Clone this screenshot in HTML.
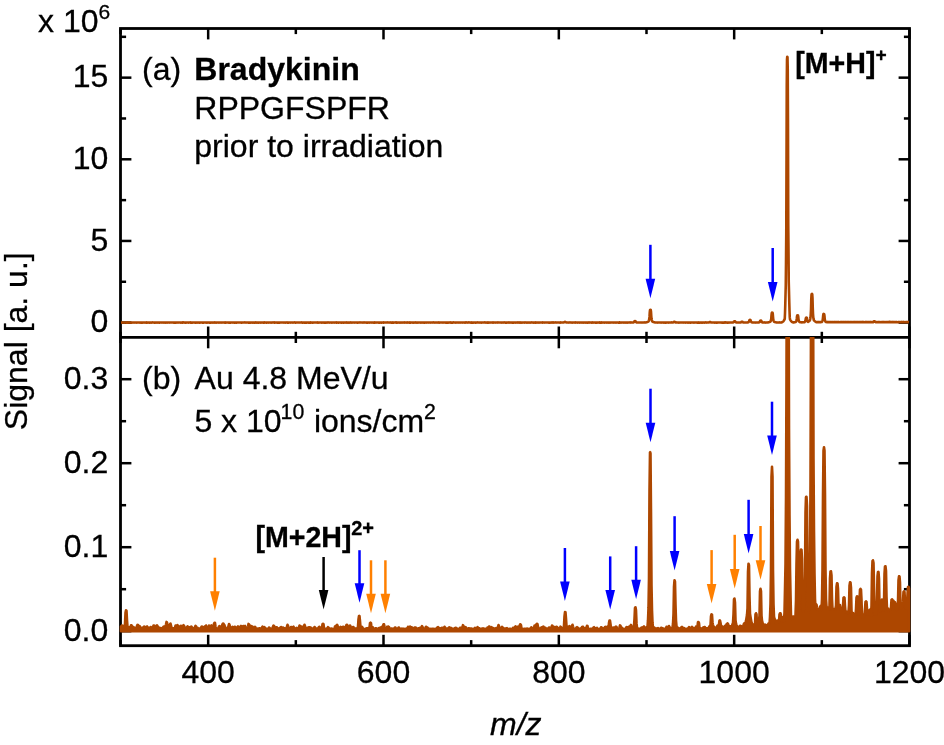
<!DOCTYPE html>
<html><head><meta charset="utf-8"><style>
html,body{margin:0;padding:0;background:#fff;}
body{width:944px;height:745px;overflow:hidden;font-family:"Liberation Sans",sans-serif;}
svg{display:block;will-change:transform;}
</style></head><body>
<svg width="944" height="745" viewBox="0 0 944 745">
<rect width="944" height="745" fill="#fff"/>
<defs><clipPath id="ca"><rect x="118.50" y="28.50" width="793.00" height="307.40"/></clipPath>
<clipPath id="cb"><rect x="118.50" y="336.90" width="793.00" height="308.30"/></clipPath></defs>
<g stroke="#000" stroke-width="2.80" fill="none">
<rect x="120.50" y="28.50" width="789.00" height="617.20"/>
<line x1="120.50" y1="337.40" x2="909.50" y2="337.40"/>
</g>
<g stroke="#000" stroke-width="2.5">
<line x1="120.50" y1="28.50" x2="120.50" y2="34.10"/>
<line x1="120.50" y1="337.40" x2="120.50" y2="331.80"/>
<line x1="120.50" y1="337.40" x2="120.50" y2="343.00"/>
<line x1="120.50" y1="645.70" x2="120.50" y2="640.10"/>
<line x1="208.17" y1="28.50" x2="208.17" y2="39.40"/>
<line x1="208.17" y1="337.40" x2="208.17" y2="326.50"/>
<line x1="208.17" y1="337.40" x2="208.17" y2="348.30"/>
<line x1="208.17" y1="645.70" x2="208.17" y2="634.80"/>
<line x1="295.83" y1="28.50" x2="295.83" y2="34.10"/>
<line x1="295.83" y1="337.40" x2="295.83" y2="331.80"/>
<line x1="295.83" y1="337.40" x2="295.83" y2="343.00"/>
<line x1="295.83" y1="645.70" x2="295.83" y2="640.10"/>
<line x1="383.50" y1="28.50" x2="383.50" y2="39.40"/>
<line x1="383.50" y1="337.40" x2="383.50" y2="326.50"/>
<line x1="383.50" y1="337.40" x2="383.50" y2="348.30"/>
<line x1="383.50" y1="645.70" x2="383.50" y2="634.80"/>
<line x1="471.17" y1="28.50" x2="471.17" y2="34.10"/>
<line x1="471.17" y1="337.40" x2="471.17" y2="331.80"/>
<line x1="471.17" y1="337.40" x2="471.17" y2="343.00"/>
<line x1="471.17" y1="645.70" x2="471.17" y2="640.10"/>
<line x1="558.83" y1="28.50" x2="558.83" y2="39.40"/>
<line x1="558.83" y1="337.40" x2="558.83" y2="326.50"/>
<line x1="558.83" y1="337.40" x2="558.83" y2="348.30"/>
<line x1="558.83" y1="645.70" x2="558.83" y2="634.80"/>
<line x1="646.50" y1="28.50" x2="646.50" y2="34.10"/>
<line x1="646.50" y1="337.40" x2="646.50" y2="331.80"/>
<line x1="646.50" y1="337.40" x2="646.50" y2="343.00"/>
<line x1="646.50" y1="645.70" x2="646.50" y2="640.10"/>
<line x1="734.17" y1="28.50" x2="734.17" y2="39.40"/>
<line x1="734.17" y1="337.40" x2="734.17" y2="326.50"/>
<line x1="734.17" y1="337.40" x2="734.17" y2="348.30"/>
<line x1="734.17" y1="645.70" x2="734.17" y2="634.80"/>
<line x1="821.83" y1="28.50" x2="821.83" y2="34.10"/>
<line x1="821.83" y1="337.40" x2="821.83" y2="331.80"/>
<line x1="821.83" y1="337.40" x2="821.83" y2="343.00"/>
<line x1="821.83" y1="645.70" x2="821.83" y2="640.10"/>
<line x1="909.50" y1="28.50" x2="909.50" y2="39.40"/>
<line x1="909.50" y1="337.40" x2="909.50" y2="326.50"/>
<line x1="909.50" y1="337.40" x2="909.50" y2="348.30"/>
<line x1="909.50" y1="645.70" x2="909.50" y2="634.80"/>
<line x1="120.50" y1="322.60" x2="131.40" y2="322.60"/>
<line x1="909.50" y1="322.60" x2="898.60" y2="322.60"/>
<line x1="120.50" y1="281.78" x2="126.10" y2="281.78"/>
<line x1="909.50" y1="281.78" x2="903.90" y2="281.78"/>
<line x1="120.50" y1="240.95" x2="131.40" y2="240.95"/>
<line x1="909.50" y1="240.95" x2="898.60" y2="240.95"/>
<line x1="120.50" y1="200.13" x2="126.10" y2="200.13"/>
<line x1="909.50" y1="200.13" x2="903.90" y2="200.13"/>
<line x1="120.50" y1="159.30" x2="131.40" y2="159.30"/>
<line x1="909.50" y1="159.30" x2="898.60" y2="159.30"/>
<line x1="120.50" y1="118.48" x2="126.10" y2="118.48"/>
<line x1="909.50" y1="118.48" x2="903.90" y2="118.48"/>
<line x1="120.50" y1="77.65" x2="131.40" y2="77.65"/>
<line x1="909.50" y1="77.65" x2="898.60" y2="77.65"/>
<line x1="120.50" y1="36.83" x2="126.10" y2="36.83"/>
<line x1="909.50" y1="36.83" x2="903.90" y2="36.83"/>
<line x1="120.50" y1="631.20" x2="131.40" y2="631.20"/>
<line x1="909.50" y1="631.20" x2="898.60" y2="631.20"/>
<line x1="120.50" y1="589.20" x2="126.10" y2="589.20"/>
<line x1="909.50" y1="589.20" x2="903.90" y2="589.20"/>
<line x1="120.50" y1="547.20" x2="131.40" y2="547.20"/>
<line x1="909.50" y1="547.20" x2="898.60" y2="547.20"/>
<line x1="120.50" y1="505.20" x2="126.10" y2="505.20"/>
<line x1="909.50" y1="505.20" x2="903.90" y2="505.20"/>
<line x1="120.50" y1="463.20" x2="131.40" y2="463.20"/>
<line x1="909.50" y1="463.20" x2="898.60" y2="463.20"/>
<line x1="120.50" y1="421.20" x2="126.10" y2="421.20"/>
<line x1="909.50" y1="421.20" x2="903.90" y2="421.20"/>
<line x1="120.50" y1="379.20" x2="131.40" y2="379.20"/>
<line x1="909.50" y1="379.20" x2="898.60" y2="379.20"/>
</g>
<g fill="none" stroke="#AD4700" stroke-width="2.6" stroke-linejoin="round">
<path clip-path="url(#ca)" d="M121.00,322.60L121.25,322.58L121.50,322.58L121.75,322.53L122.00,322.56L122.25,322.52L122.50,322.60L122.75,322.49L123.00,322.56L123.25,322.55L123.50,322.56L123.75,322.57L124.00,322.59L124.25,322.53L124.50,322.60L124.75,322.54L125.00,322.49L125.25,322.56L125.50,322.45L125.75,322.50L126.00,322.45L126.25,322.58L126.50,322.50L126.75,322.58L127.00,322.59L127.25,322.59L127.50,322.40L127.75,322.56L128.00,322.60L128.25,322.59L128.50,322.48L128.75,322.56L129.00,322.52L129.25,322.54L129.50,322.52L129.75,322.54L130.00,322.60L130.25,322.53L130.50,322.55L130.75,322.59L131.00,322.59L131.25,322.59L131.50,322.50L131.75,322.59L132.00,322.49L132.25,322.48L132.50,322.53L132.75,322.59L133.00,322.55L133.25,322.44L133.50,322.54L133.75,322.50L134.00,322.59L134.25,322.55L134.50,322.58L134.75,322.55L135.00,322.59L135.25,322.55L135.50,322.48L135.75,322.55L136.00,322.58L136.25,322.56L136.50,322.59L136.75,322.51L137.00,322.55L137.25,322.58L137.50,322.53L137.75,322.51L138.00,322.49L138.25,322.54L138.50,322.55L138.75,322.44L139.00,322.56L139.25,322.59L139.50,322.50L139.75,322.54L140.00,322.57L140.25,322.57L140.50,322.58L140.75,322.48L141.00,322.57L141.25,322.58L141.50,322.57L141.75,322.59L142.00,322.58L142.25,322.51L142.50,322.60L142.75,322.56L143.00,322.51L143.25,322.55L143.50,322.60L143.75,322.55L144.00,322.57L144.25,322.52L144.50,322.60L144.75,322.55L145.00,322.50L145.25,322.57L145.50,322.46L145.75,322.44L146.00,322.58L146.25,322.53L146.50,322.59L146.75,322.42L147.00,322.53L147.25,322.55L147.50,322.58L147.75,322.56L148.00,322.59L148.25,322.58L148.50,322.54L148.75,322.56L149.00,322.52L149.25,322.59L149.50,322.60L149.75,322.52L150.00,322.58L150.25,322.53L150.50,322.52L150.75,322.58L151.00,322.59L151.25,322.55L151.50,322.59L151.75,322.44L152.00,322.51L152.25,322.57L152.50,322.43L152.75,322.53L153.00,322.46L153.25,322.54L153.50,322.53L153.75,322.54L154.00,322.59L154.25,322.48L154.50,322.50L154.75,322.48L155.00,322.59L155.25,322.58L155.50,322.59L155.75,322.52L156.00,322.51L156.25,322.56L156.50,322.60L156.75,322.54L157.00,322.55L157.25,322.50L157.50,322.50L157.75,322.59L158.00,322.52L158.25,322.60L158.50,322.54L158.75,322.57L159.00,322.56L159.25,322.60L159.50,322.57L159.75,322.58L160.00,322.49L160.25,322.54L160.50,322.47L160.75,322.55L161.00,322.52L161.25,322.57L161.50,322.49L161.75,322.48L162.00,322.58L162.25,322.55L162.50,322.46L162.75,322.54L163.00,322.60L163.25,322.59L163.50,322.54L163.75,322.56L164.00,322.56L164.25,322.59L164.50,322.51L164.75,322.50L165.00,322.49L165.25,322.56L165.50,322.58L165.75,322.60L166.00,322.56L166.25,322.56L166.50,322.55L166.75,322.58L167.00,322.59L167.25,322.60L167.50,322.51L167.75,322.55L168.00,322.57L168.25,322.55L168.50,322.49L168.75,322.52L169.00,322.52L169.25,322.59L169.50,322.56L169.75,322.54L170.00,322.53L170.25,322.53L170.50,322.56L170.75,322.48L171.00,322.50L171.25,322.53L171.50,322.56L171.75,322.53L172.00,322.45L172.25,322.48L172.50,322.51L172.75,322.46L173.00,322.53L173.25,322.52L173.50,322.60L173.75,322.53L174.00,322.47L174.25,322.43L174.50,322.58L174.75,322.60L175.00,322.58L175.25,322.60L175.50,322.53L175.75,322.48L176.00,322.59L176.25,322.52L176.50,322.47L176.75,322.56L177.00,322.60L177.25,322.57L177.50,322.52L177.75,322.55L178.00,322.52L178.25,322.53L178.50,322.58L178.75,322.54L179.00,322.57L179.25,322.57L179.50,322.44L179.75,322.49L180.00,322.53L180.25,322.59L180.50,322.60L180.75,322.48L181.00,322.56L181.25,322.54L181.50,322.59L181.75,322.59L182.00,322.58L182.25,322.51L182.50,322.60L182.75,322.42L183.00,322.54L183.25,322.44L183.50,322.34L183.75,322.56L184.00,322.49L184.25,322.60L184.50,322.51L184.75,322.52L185.00,322.51L185.25,322.59L185.50,322.60L185.75,322.60L186.00,322.60L186.25,322.54L186.50,322.56L186.75,322.58L187.00,322.52L187.25,322.56L187.50,322.55L187.75,322.51L188.00,322.50L188.25,322.59L188.50,322.60L188.75,322.49L189.00,322.46L189.25,322.48L189.50,322.56L189.75,322.54L190.00,322.57L190.25,322.39L190.50,322.58L190.75,322.60L191.00,322.59L191.25,322.51L191.50,322.58L191.75,322.59L192.00,322.50L192.25,322.57L192.50,322.60L192.75,322.48L193.00,322.56L193.25,322.57L193.50,322.45L193.75,322.47L194.00,322.52L194.25,322.53L194.50,322.55L194.75,322.59L195.00,322.58L195.25,322.58L195.50,322.58L195.75,322.60L196.00,322.48L196.25,322.56L196.50,322.60L196.75,322.55L197.00,322.55L197.25,322.47L197.50,322.56L197.75,322.59L198.00,322.57L198.25,322.51L198.50,322.59L198.75,322.53L199.00,322.57L199.25,322.58L199.50,322.58L199.75,322.59L200.00,322.47L200.25,322.58L200.50,322.53L200.75,322.53L201.00,322.54L201.25,322.55L201.50,322.48L201.75,322.57L202.00,322.55L202.25,322.58L202.50,322.60L202.75,322.52L203.00,322.56L203.25,322.44L203.50,322.58L203.75,322.58L204.00,322.52L204.25,322.57L204.50,322.50L204.75,322.51L205.00,322.50L205.25,322.53L205.50,322.51L205.75,322.48L206.00,322.58L206.25,322.56L206.50,322.44L206.75,322.58L207.00,322.55L207.25,322.49L207.50,322.60L207.75,322.48L208.00,322.52L208.25,322.52L208.50,322.53L208.75,322.56L209.00,322.58L209.25,322.58L209.50,322.58L209.75,322.58L210.00,322.58L210.25,322.60L210.50,322.58L210.75,322.59L211.00,322.56L211.25,322.45L211.50,322.55L211.75,322.60L212.00,322.47L212.25,322.57L212.50,322.44L212.75,322.49L213.00,322.53L213.25,322.54L213.50,322.59L213.75,322.46L214.00,322.57L214.25,322.55L214.50,322.55L214.75,322.42L215.00,322.58L215.25,322.54L215.50,322.51L215.75,322.60L216.00,322.59L216.25,322.51L216.50,322.59L216.75,322.51L217.00,322.51L217.25,322.51L217.50,322.51L217.75,322.56L218.00,322.56L218.25,322.59L218.50,322.57L218.75,322.57L219.00,322.50L219.25,322.48L219.50,322.54L219.75,322.58L220.00,322.58L220.25,322.52L220.50,322.46L220.75,322.54L221.00,322.59L221.25,322.57L221.50,322.57L221.75,322.52L222.00,322.58L222.25,322.50L222.50,322.53L222.75,322.54L223.00,322.56L223.25,322.45L223.50,322.49L223.75,322.55L224.00,322.49L224.25,322.57L224.50,322.58L224.75,322.51L225.00,322.40L225.25,322.59L225.50,322.47L225.75,322.55L226.00,322.59L226.25,322.47L226.50,322.57L226.75,322.52L227.00,322.50L227.25,322.51L227.50,322.57L227.75,322.52L228.00,322.56L228.25,322.56L228.50,322.60L228.75,322.56L229.00,322.53L229.25,322.58L229.50,322.52L229.75,322.50L230.00,322.60L230.25,322.53L230.50,322.48L230.75,322.60L231.00,322.55L231.25,322.52L231.50,322.53L231.75,322.56L232.00,322.48L232.25,322.54L232.50,322.57L232.75,322.58L233.00,322.54L233.25,322.55L233.50,322.59L233.75,322.55L234.00,322.60L234.25,322.51L234.50,322.59L234.75,322.60L235.00,322.52L235.25,322.53L235.50,322.60L235.75,322.46L236.00,322.55L236.25,322.51L236.50,322.46L236.75,322.60L237.00,322.51L237.25,322.48L237.50,322.51L237.75,322.54L238.00,322.51L238.25,322.57L238.50,322.54L238.75,322.54L239.00,322.55L239.25,322.54L239.50,322.57L239.75,322.52L240.00,322.50L240.25,322.45L240.50,322.45L240.75,322.57L241.00,322.58L241.25,322.60L241.50,322.59L241.75,322.60L242.00,322.45L242.25,322.52L242.50,322.48L242.75,322.52L243.00,322.49L243.25,322.54L243.50,322.53L243.75,322.52L244.00,322.49L244.25,322.57L244.50,322.49L244.75,322.37L245.00,322.56L245.25,322.51L245.50,322.52L245.75,322.51L246.00,322.58L246.25,322.48L246.50,322.52L246.75,322.49L247.00,322.53L247.25,322.57L247.50,322.53L247.75,322.45L248.00,322.57L248.25,322.60L248.50,322.59L248.75,322.59L249.00,322.51L249.25,322.59L249.50,322.60L249.75,322.50L250.00,322.45L250.25,322.59L250.50,322.54L250.75,322.59L251.00,322.55L251.25,322.54L251.50,322.60L251.75,322.52L252.00,322.55L252.25,322.59L252.50,322.58L252.75,322.59L253.00,322.54L253.25,322.52L253.50,322.58L253.75,322.56L254.00,322.58L254.25,322.60L254.50,322.49L254.75,322.59L255.00,322.49L255.25,322.55L255.50,322.58L255.75,322.43L256.00,322.59L256.25,322.59L256.50,322.59L256.75,322.57L257.00,322.57L257.25,322.52L257.50,322.58L257.75,322.56L258.00,322.59L258.25,322.50L258.50,322.58L258.75,322.59L259.00,322.59L259.25,322.56L259.50,322.56L259.75,322.47L260.00,322.56L260.25,322.58L260.50,322.58L260.75,322.57L261.00,322.55L261.25,322.58L261.50,322.55L261.75,322.57L262.00,322.58L262.25,322.48L262.50,322.56L262.75,322.51L263.00,322.52L263.25,322.58L263.50,322.48L263.75,322.52L264.00,322.59L264.25,322.40L264.50,322.57L264.75,322.48L265.00,322.50L265.25,322.55L265.50,322.50L265.75,322.57L266.00,322.58L266.25,322.46L266.50,322.47L266.75,322.59L267.00,322.58L267.25,322.50L267.50,322.54L267.75,322.57L268.00,322.57L268.25,322.59L268.50,322.52L268.75,322.54L269.00,322.60L269.25,322.54L269.50,322.55L269.75,322.51L270.00,322.57L270.25,322.58L270.50,322.57L270.75,322.52L271.00,322.47L271.25,322.55L271.50,322.60L271.75,322.58L272.00,322.46L272.25,322.57L272.50,322.55L272.75,322.53L273.00,322.42L273.25,322.57L273.50,322.53L273.75,322.57L274.00,322.55L274.25,322.60L274.50,322.54L274.75,322.38L275.00,322.59L275.25,322.56L275.50,322.55L275.75,322.46L276.00,322.51L276.25,322.57L276.50,322.58L276.75,322.54L277.00,322.56L277.25,322.60L277.50,322.53L277.75,322.44L278.00,322.59L278.25,322.60L278.50,322.58L278.75,322.49L279.00,322.60L279.25,322.48L279.50,322.52L279.75,322.59L280.00,322.58L280.25,322.54L280.50,322.52L280.75,322.48L281.00,322.53L281.25,322.57L281.50,322.55L281.75,322.48L282.00,322.52L282.25,322.56L282.50,322.56L282.75,322.56L283.00,322.52L283.25,322.58L283.50,322.51L283.75,322.53L284.00,322.53L284.25,322.58L284.50,322.54L284.75,322.55L285.00,322.58L285.25,322.53L285.50,322.59L285.75,322.57L286.00,322.53L286.25,322.55L286.50,322.56L286.75,322.50L287.00,322.42L287.25,322.44L287.50,322.59L287.75,322.58L288.00,322.48L288.25,322.59L288.50,322.52L288.75,322.59L289.00,322.56L289.25,322.53L289.50,322.47L289.75,322.49L290.00,322.55L290.25,322.54L290.50,322.59L290.75,322.58L291.00,322.55L291.25,322.57L291.50,322.56L291.75,322.53L292.00,322.57L292.25,322.52L292.50,322.51L292.75,322.60L293.00,322.54L293.25,322.57L293.50,322.58L293.75,322.54L294.00,322.47L294.25,322.52L294.50,322.57L294.75,322.40L295.00,322.52L295.25,322.59L295.50,322.54L295.75,322.44L296.00,322.58L296.25,322.57L296.50,322.50L296.75,322.56L297.00,322.55L297.25,322.56L297.50,322.45L297.75,322.46L298.00,322.55L298.25,322.55L298.50,322.44L298.75,322.55L299.00,322.58L299.25,322.57L299.50,322.55L299.75,322.57L300.00,322.46L300.25,322.57L300.50,322.54L300.75,322.57L301.00,322.55L301.25,322.57L301.50,322.42L301.75,322.50L302.00,322.58L302.25,322.51L302.50,322.44L302.75,322.60L303.00,322.46L303.25,322.53L303.50,322.50L303.75,322.56L304.00,322.59L304.25,322.44L304.50,322.57L304.75,322.48L305.00,322.58L305.25,322.59L305.50,322.57L305.75,322.59L306.00,322.56L306.25,322.55L306.50,322.47L306.75,322.60L307.00,322.45L307.25,322.44L307.50,322.49L307.75,322.54L308.00,322.55L308.25,322.48L308.50,322.60L308.75,322.59L309.00,322.58L309.25,322.59L309.50,322.57L309.75,322.59L310.00,322.51L310.25,322.57L310.50,322.42L310.75,322.59L311.00,322.58L311.25,322.56L311.50,322.54L311.75,322.51L312.00,322.58L312.25,322.53L312.50,322.58L312.75,322.59L313.00,322.48L313.25,322.55L313.50,322.59L313.75,322.56L314.00,322.48L314.25,322.44L314.50,322.55L314.75,322.56L315.00,322.55L315.25,322.55L315.50,322.49L315.75,322.47L316.00,322.54L316.25,322.58L316.50,322.55L316.75,322.56L317.00,322.53L317.25,322.43L317.50,322.57L317.75,322.48L318.00,322.55L318.25,322.57L318.50,322.58L318.75,322.47L319.00,322.58L319.25,322.48L319.50,322.54L319.75,322.53L320.00,322.50L320.25,322.57L320.50,322.55L320.75,322.44L321.00,322.54L321.25,322.59L321.50,322.57L321.75,322.59L322.00,322.55L322.25,322.60L322.50,322.50L322.75,322.57L323.00,322.57L323.25,322.57L323.50,322.48L323.75,322.59L324.00,322.58L324.25,322.58L324.50,322.49L324.75,322.47L325.00,322.59L325.25,322.50L325.50,322.46L325.75,322.58L326.00,322.59L326.25,322.54L326.50,322.59L326.75,322.55L327.00,322.56L327.25,322.54L327.50,322.60L327.75,322.52L328.00,322.39L328.25,322.52L328.50,322.56L328.75,322.53L329.00,322.54L329.25,322.51L329.50,322.56L329.75,322.60L330.00,322.52L330.25,322.52L330.50,322.56L330.75,322.43L331.00,322.48L331.25,322.57L331.50,322.59L331.75,322.59L332.00,322.46L332.25,322.56L332.50,322.54L332.75,322.56L333.00,322.59L333.25,322.53L333.50,322.55L333.75,322.55L334.00,322.51L334.25,322.54L334.50,322.48L334.75,322.58L335.00,322.51L335.25,322.56L335.50,322.52L335.75,322.55L336.00,322.59L336.25,322.40L336.50,322.54L336.75,322.56L337.00,322.59L337.25,322.57L337.50,322.50L337.75,322.56L338.00,322.46L338.25,322.58L338.50,322.60L338.75,322.59L339.00,322.49L339.25,322.57L339.50,322.53L339.75,322.51L340.00,322.53L340.25,322.43L340.50,322.54L340.75,322.58L341.00,322.59L341.25,322.46L341.50,322.53L341.75,322.59L342.00,322.56L342.25,322.54L342.50,322.57L342.75,322.58L343.00,322.58L343.25,322.59L343.50,322.59L343.75,322.51L344.00,322.60L344.25,322.53L344.50,322.52L344.75,322.58L345.00,322.55L345.25,322.51L345.50,322.59L345.75,322.52L346.00,322.51L346.25,322.41L346.50,322.44L346.75,322.58L347.00,322.54L347.25,322.59L347.50,322.59L347.75,322.48L348.00,322.49L348.25,322.52L348.50,322.60L348.75,322.49L349.00,322.59L349.25,322.55L349.50,322.58L349.75,322.54L350.00,322.60L350.25,322.56L350.50,322.56L350.75,322.43L351.00,322.53L351.25,322.54L351.50,322.59L351.75,322.59L352.00,322.52L352.25,322.56L352.50,322.54L352.75,322.58L353.00,322.50L353.25,322.49L353.50,322.50L353.75,322.55L354.00,322.51L354.25,322.50L354.50,322.59L354.75,322.50L355.00,322.57L355.25,322.53L355.50,322.50L355.75,322.57L356.00,322.57L356.25,322.54L356.50,322.55L356.75,322.57L357.00,322.60L357.25,322.56L357.50,322.56L357.75,322.59L358.00,322.60L358.25,322.55L358.50,322.57L358.75,322.51L359.00,322.58L359.25,322.53L359.50,322.50L359.75,322.55L360.00,322.42L360.25,322.53L360.50,322.54L360.75,322.57L361.00,322.45L361.25,322.46L361.50,322.44L361.75,322.52L362.00,322.55L362.25,322.54L362.50,322.54L362.75,322.59L363.00,322.56L363.25,322.55L363.50,322.59L363.75,322.52L364.00,322.42L364.25,322.55L364.50,322.52L364.75,322.52L365.00,322.58L365.25,322.53L365.50,322.57L365.75,322.53L366.00,322.53L366.25,322.47L366.50,322.60L366.75,322.56L367.00,322.52L367.25,322.59L367.50,322.52L367.75,322.60L368.00,322.59L368.25,322.55L368.50,322.52L368.75,322.57L369.00,322.58L369.25,322.59L369.50,322.59L369.75,322.53L370.00,322.52L370.25,322.57L370.50,322.56L370.75,322.53L371.00,322.57L371.25,322.57L371.50,322.57L371.75,322.44L372.00,322.57L372.25,322.46L372.50,322.52L372.75,322.55L373.00,322.57L373.25,322.57L373.50,322.60L373.75,322.60L374.00,322.58L374.25,322.46L374.50,322.58L374.75,322.42L375.00,322.57L375.25,322.54L375.50,322.54L375.75,322.58L376.00,322.58L376.25,322.49L376.50,322.46L376.75,322.51L377.00,322.44L377.25,322.52L377.50,322.47L377.75,322.52L378.00,322.55L378.25,322.49L378.50,322.58L378.75,322.57L379.00,322.60L379.25,322.55L379.50,322.46L379.75,322.58L380.00,322.59L380.25,322.52L380.50,322.55L380.75,322.58L381.00,322.53L381.25,322.60L381.50,322.46L381.75,322.44L382.00,322.58L382.25,322.53L382.50,322.57L382.75,322.54L383.00,322.58L383.25,322.49L383.50,322.59L383.75,322.40L384.00,322.51L384.25,322.51L384.50,322.53L384.75,322.57L385.00,322.52L385.25,322.53L385.50,322.54L385.75,322.53L386.00,322.53L386.25,322.57L386.50,322.51L386.75,322.48L387.00,322.54L387.25,322.42L387.50,322.54L387.75,322.55L388.00,322.56L388.25,322.45L388.50,322.51L388.75,322.51L389.00,322.53L389.25,322.51L389.50,322.54L389.75,322.52L390.00,322.59L390.25,322.47L390.50,322.48L390.75,322.41L391.00,322.51L391.25,322.58L391.50,322.58L391.75,322.59L392.00,322.58L392.25,322.58L392.50,322.51L392.75,322.43L393.00,322.60L393.25,322.54L393.50,322.59L393.75,322.58L394.00,322.53L394.25,322.55L394.50,322.54L394.75,322.57L395.00,322.55L395.25,322.44L395.50,322.42L395.75,322.48L396.00,322.58L396.25,322.40L396.50,322.54L396.75,322.58L397.00,322.58L397.25,322.56L397.50,322.58L397.75,322.56L398.00,322.54L398.25,322.57L398.50,322.56L398.75,322.50L399.00,322.60L399.25,322.53L399.50,322.59L399.75,322.52L400.00,322.57L400.25,322.56L400.50,322.57L400.75,322.60L401.00,322.59L401.25,322.58L401.50,322.54L401.75,322.51L402.00,322.49L402.25,322.60L402.50,322.54L402.75,322.56L403.00,322.55L403.25,322.59L403.50,322.54L403.75,322.51L404.00,322.54L404.25,322.42L404.50,322.54L404.75,322.44L405.00,322.60L405.25,322.52L405.50,322.55L405.75,322.49L406.00,322.54L406.25,322.46L406.50,322.57L406.75,322.60L407.00,322.52L407.25,322.40L407.50,322.50L407.75,322.59L408.00,322.57L408.25,322.55L408.50,322.55L408.75,322.52L409.00,322.60L409.25,322.52L409.50,322.60L409.75,322.59L410.00,322.41L410.25,322.53L410.50,322.59L410.75,322.59L411.00,322.57L411.25,322.52L411.50,322.56L411.75,322.53L412.00,322.47L412.25,322.53L412.50,322.56L412.75,322.60L413.00,322.52L413.25,322.57L413.50,322.60L413.75,322.56L414.00,322.55L414.25,322.58L414.50,322.45L414.75,322.51L415.00,322.47L415.25,322.42L415.50,322.57L415.75,322.58L416.00,322.57L416.25,322.54L416.50,322.60L416.75,322.60L417.00,322.59L417.25,322.45L417.50,322.59L417.75,322.53L418.00,322.56L418.25,322.58L418.50,322.55L418.75,322.53L419.00,322.56L419.25,322.53L419.50,322.51L419.75,322.51L420.00,322.49L420.25,322.59L420.50,322.59L420.75,322.53L421.00,322.49L421.25,322.58L421.50,322.56L421.75,322.57L422.00,322.46L422.25,322.53L422.50,322.60L422.75,322.53L423.00,322.52L423.25,322.59L423.50,322.58L423.75,322.53L424.00,322.57L424.25,322.58L424.50,322.55L424.75,322.46L425.00,322.60L425.25,322.48L425.50,322.53L425.75,322.48L426.00,322.50L426.25,322.50L426.50,322.58L426.75,322.48L427.00,322.55L427.25,322.50L427.50,322.57L427.75,322.55L428.00,322.57L428.25,322.58L428.50,322.55L428.75,322.51L429.00,322.50L429.25,322.51L429.50,322.49L429.75,322.55L430.00,322.48L430.25,322.59L430.50,322.57L430.75,322.57L431.00,322.53L431.25,322.57L431.50,322.53L431.75,322.48L432.00,322.55L432.25,322.58L432.50,322.53L432.75,322.51L433.00,322.57L433.25,322.40L433.50,322.55L433.75,322.56L434.00,322.52L434.25,322.58L434.50,322.50L434.75,322.56L435.00,322.51L435.25,322.44L435.50,322.56L435.75,322.50L436.00,322.58L436.25,322.57L436.50,322.54L436.75,322.54L437.00,322.56L437.25,322.53L437.50,322.59L437.75,322.54L438.00,322.55L438.25,322.57L438.50,322.59L438.75,322.37L439.00,322.54L439.25,322.49L439.50,322.60L439.75,322.59L440.00,322.54L440.25,322.53L440.50,322.50L440.75,322.57L441.00,322.55L441.25,322.56L441.50,322.56L441.75,322.55L442.00,322.49L442.25,322.57L442.50,322.52L442.75,322.48L443.00,322.59L443.25,322.48L443.50,322.51L443.75,322.48L444.00,322.47L444.25,322.53L444.50,322.50L444.75,322.55L445.00,322.46L445.25,322.52L445.50,322.59L445.75,322.58L446.00,322.59L446.25,322.59L446.50,322.56L446.75,322.60L447.00,322.47L447.25,322.46L447.50,322.58L447.75,322.53L448.00,322.59L448.25,322.53L448.50,322.60L448.75,322.54L449.00,322.47L449.25,322.51L449.50,322.55L449.75,322.55L450.00,322.59L450.25,322.39L450.50,322.54L450.75,322.58L451.00,322.48L451.25,322.58L451.50,322.58L451.75,322.49L452.00,322.49L452.25,322.46L452.50,322.60L452.75,322.58L453.00,322.47L453.25,322.53L453.50,322.38L453.75,322.54L454.00,322.50L454.25,322.56L454.50,322.52L454.75,322.49L455.00,322.50L455.25,322.58L455.50,322.58L455.75,322.53L456.00,322.57L456.25,322.57L456.50,322.54L456.75,322.50L457.00,322.60L457.25,322.54L457.50,322.50L457.75,322.50L458.00,322.56L458.25,322.45L458.50,322.49L458.75,322.47L459.00,322.59L459.25,322.57L459.50,322.44L459.75,322.48L460.00,322.55L460.25,322.53L460.50,322.58L460.75,322.57L461.00,322.46L461.25,322.57L461.50,322.51L461.75,322.49L462.00,322.57L462.25,322.58L462.50,322.49L462.75,322.52L463.00,322.56L463.25,322.55L463.50,322.55L463.75,322.55L464.00,322.55L464.25,322.46L464.50,322.58L464.75,322.57L465.00,322.55L465.25,322.43L465.50,322.58L465.75,322.54L466.00,322.47L466.25,322.42L466.50,322.39L466.75,322.51L467.00,322.52L467.25,322.50L467.50,322.52L467.75,322.59L468.00,322.51L468.25,322.55L468.50,322.54L468.75,322.40L469.00,322.37L469.25,322.54L469.50,322.45L469.75,322.53L470.00,322.48L470.25,322.47L470.50,322.48L470.75,322.60L471.00,322.50L471.25,322.59L471.50,322.42L471.75,322.46L472.00,322.59L472.25,322.52L472.50,322.59L472.75,322.59L473.00,322.45L473.25,322.50L473.50,322.60L473.75,322.50L474.00,322.54L474.25,322.57L474.50,322.53L474.75,322.50L475.00,322.58L475.25,322.49L475.50,322.59L475.75,322.47L476.00,322.54L476.25,322.58L476.50,322.53L476.75,322.51L477.00,322.50L477.25,322.48L477.50,322.41L477.75,322.56L478.00,322.54L478.25,322.54L478.50,322.57L478.75,322.54L479.00,322.58L479.25,322.58L479.50,322.55L479.75,322.55L480.00,322.57L480.25,322.46L480.50,322.56L480.75,322.49L481.00,322.59L481.25,322.52L481.50,322.59L481.75,322.56L482.00,322.49L482.25,322.53L482.50,322.52L482.75,322.54L483.00,322.46L483.25,322.53L483.50,322.57L483.75,322.48L484.00,322.48L484.25,322.48L484.50,322.55L484.75,322.38L485.00,322.39L485.25,322.47L485.50,322.52L485.75,322.59L486.00,322.58L486.25,322.59L486.50,322.48L486.75,322.55L487.00,322.56L487.25,322.58L487.50,322.50L487.75,322.59L488.00,322.41L488.25,322.54L488.50,322.58L488.75,322.45L489.00,322.50L489.25,322.49L489.50,322.52L489.75,322.56L490.00,322.60L490.25,322.52L490.50,322.57L490.75,322.56L491.00,322.56L491.25,322.54L491.50,322.55L491.75,322.55L492.00,322.53L492.25,322.58L492.50,322.59L492.75,322.52L493.00,322.39L493.25,322.53L493.50,322.60L493.75,322.59L494.00,322.53L494.25,322.53L494.50,322.52L494.75,322.57L495.00,322.57L495.25,322.54L495.50,322.57L495.75,322.58L496.00,322.50L496.25,322.47L496.50,322.56L496.75,322.46L497.00,322.54L497.25,322.48L497.50,322.58L497.75,322.54L498.00,322.38L498.25,322.50L498.50,322.51L498.75,322.46L499.00,322.57L499.25,322.54L499.50,322.50L499.75,322.55L500.00,322.57L500.25,322.53L500.50,322.54L500.75,322.55L501.00,322.59L501.25,322.59L501.50,322.56L501.75,322.48L502.00,322.44L502.25,322.51L502.50,322.54L502.75,322.57L503.00,322.59L503.25,322.56L503.50,322.57L503.75,322.46L504.00,322.54L504.25,322.36L504.50,322.45L504.75,322.52L505.00,322.57L505.25,322.59L505.50,322.49L505.75,322.50L506.00,322.59L506.25,322.48L506.50,322.58L506.75,322.57L507.00,322.59L507.25,322.56L507.50,322.47L507.75,322.53L508.00,322.53L508.25,322.50L508.50,322.54L508.75,322.59L509.00,322.39L509.25,322.60L509.50,322.51L509.75,322.56L510.00,322.47L510.25,322.51L510.50,322.51L510.75,322.48L511.00,322.59L511.25,322.47L511.50,322.57L511.75,322.53L512.00,322.59L512.25,322.50L512.50,322.52L512.75,322.60L513.00,322.60L513.25,322.59L513.50,322.55L513.75,322.44L514.00,322.60L514.25,322.51L514.50,322.56L514.75,322.54L515.00,322.55L515.25,322.59L515.50,322.55L515.75,322.60L516.00,322.46L516.25,322.49L516.50,322.53L516.75,322.56L517.00,322.57L517.25,322.50L517.50,322.55L517.75,322.60L518.00,322.42L518.25,322.55L518.50,322.57L518.75,322.54L519.00,322.57L519.25,322.53L519.50,322.59L519.75,322.59L520.00,322.44L520.25,322.59L520.50,322.58L520.75,322.56L521.00,322.46L521.25,322.57L521.50,322.60L521.75,322.59L522.00,322.51L522.25,322.55L522.50,322.50L522.75,322.58L523.00,322.49L523.25,322.54L523.50,322.56L523.75,322.51L524.00,322.57L524.25,322.58L524.50,322.58L524.75,322.51L525.00,322.42L525.25,322.53L525.50,322.52L525.75,322.51L526.00,322.53L526.25,322.53L526.50,322.58L526.75,322.53L527.00,322.59L527.25,322.57L527.50,322.54L527.75,322.59L528.00,322.47L528.25,322.57L528.50,322.55L528.75,322.59L529.00,322.52L529.25,322.58L529.50,322.53L529.75,322.53L530.00,322.58L530.25,322.51L530.50,322.56L530.75,322.58L531.00,322.52L531.25,322.53L531.50,322.56L531.75,322.43L532.00,322.57L532.25,322.56L532.50,322.55L532.75,322.59L533.00,322.55L533.25,322.58L533.50,322.44L533.75,322.58L534.00,322.48L534.25,322.58L534.50,322.55L534.75,322.48L535.00,322.59L535.25,322.59L535.50,322.58L535.75,322.43L536.00,322.53L536.25,322.57L536.50,322.56L536.75,322.58L537.00,322.58L537.25,322.57L537.50,322.50L537.75,322.53L538.00,322.58L538.25,322.59L538.50,322.57L538.75,322.55L539.00,322.53L539.25,322.60L539.50,322.51L539.75,322.52L540.00,322.48L540.25,322.53L540.50,322.56L540.75,322.54L541.00,322.48L541.25,322.46L541.50,322.50L541.75,322.57L542.00,322.57L542.25,322.56L542.50,322.59L542.75,322.43L543.00,322.56L543.25,322.49L543.50,322.55L543.75,322.57L544.00,322.51L544.25,322.49L544.50,322.52L544.75,322.60L545.00,322.55L545.25,322.55L545.50,322.52L545.75,322.54L546.00,322.53L546.25,322.56L546.50,322.44L546.75,322.50L547.00,322.56L547.25,322.54L547.50,322.57L547.75,322.52L548.00,322.57L548.25,322.52L548.50,322.59L548.75,322.50L549.00,322.50L549.25,322.59L549.50,322.48L549.75,322.59L550.00,322.59L550.25,322.53L550.50,322.58L550.75,322.54L551.00,322.49L551.25,322.55L551.50,322.57L551.75,322.58L552.00,322.42L552.25,322.59L552.50,322.55L552.75,322.54L553.00,322.59L553.25,322.41L553.50,322.55L553.75,322.55L554.00,322.53L554.25,322.45L554.50,322.54L554.75,322.58L555.00,322.54L555.25,322.53L555.50,322.55L555.75,322.42L556.00,322.53L556.25,322.54L556.50,322.58L556.75,322.52L557.00,322.50L557.25,322.46L557.50,322.54L557.75,322.46L558.00,322.51L558.25,322.51L558.50,322.53L558.75,322.51L559.00,322.53L559.25,322.59L559.50,322.49L559.75,322.49L560.00,322.52L560.25,322.55L560.50,322.42L560.75,322.59L561.00,322.55L561.25,322.54L561.50,322.46L561.75,322.56L562.00,322.50L562.25,322.56L562.50,322.49L562.75,322.55L563.00,322.54L563.25,322.52L563.50,322.50L563.75,322.43L564.00,322.35L564.25,322.13L564.50,321.95L564.75,321.90L565.00,321.90L565.25,321.90L565.50,321.95L565.75,322.13L566.00,322.35L566.25,322.43L566.50,322.50L566.75,322.52L567.00,322.52L567.25,322.53L567.50,322.51L567.75,322.43L568.00,322.52L568.25,322.54L568.50,322.58L568.75,322.49L569.00,322.49L569.25,322.51L569.50,322.57L569.75,322.57L570.00,322.42L570.25,322.54L570.50,322.51L570.75,322.51L571.00,322.55L571.25,322.59L571.50,322.48L571.75,322.45L572.00,322.53L572.25,322.58L572.50,322.58L572.75,322.49L573.00,322.56L573.25,322.52L573.50,322.54L573.75,322.51L574.00,322.54L574.25,322.57L574.50,322.45L574.75,322.57L575.00,322.59L575.25,322.42L575.50,322.57L575.75,322.53L576.00,322.54L576.25,322.51L576.50,322.51L576.75,322.50L577.00,322.55L577.25,322.55L577.50,322.59L577.75,322.60L578.00,322.52L578.25,322.55L578.50,322.44L578.75,322.57L579.00,322.57L579.25,322.58L579.50,322.58L579.75,322.50L580.00,322.55L580.25,322.59L580.50,322.55L580.75,322.49L581.00,322.51L581.25,322.57L581.50,322.52L581.75,322.59L582.00,322.52L582.25,322.52L582.50,322.48L582.75,322.58L583.00,322.51L583.25,322.52L583.50,322.58L583.75,322.51L584.00,322.60L584.25,322.50L584.50,322.53L584.75,322.54L585.00,322.56L585.25,322.57L585.50,322.58L585.75,322.58L586.00,322.52L586.25,322.56L586.50,322.46L586.75,322.59L587.00,322.52L587.25,322.59L587.50,322.58L587.75,322.44L588.00,322.58L588.25,322.50L588.50,322.54L588.75,322.57L589.00,322.43L589.25,322.58L589.50,322.53L589.75,322.52L590.00,322.57L590.25,322.55L590.50,322.46L590.75,322.54L591.00,322.55L591.25,322.58L591.50,322.52L591.75,322.60L592.00,322.58L592.25,322.41L592.50,322.55L592.75,322.56L593.00,322.56L593.25,322.49L593.50,322.48L593.75,322.58L594.00,322.52L594.25,322.49L594.50,322.56L594.75,322.54L595.00,322.58L595.25,322.59L595.50,322.59L595.75,322.60L596.00,322.51L596.25,322.59L596.50,322.59L596.75,322.58L597.00,322.57L597.25,322.53L597.50,322.56L597.75,322.60L598.00,322.55L598.25,322.59L598.50,322.55L598.75,322.44L599.00,322.49L599.25,322.56L599.50,322.60L599.75,322.42L600.00,322.57L600.25,322.59L600.50,322.58L600.75,322.58L601.00,322.49L601.25,322.60L601.50,322.43L601.75,322.53L602.00,322.54L602.25,322.52L602.50,322.45L602.75,322.57L603.00,322.60L603.25,322.53L603.50,322.50L603.75,322.51L604.00,322.57L604.25,322.49L604.50,322.59L604.75,322.59L605.00,322.57L605.25,322.55L605.50,322.57L605.75,322.54L606.00,322.56L606.25,322.48L606.50,322.45L606.75,322.59L607.00,322.57L607.25,322.56L607.50,322.52L607.75,322.59L608.00,322.52L608.25,322.54L608.50,322.59L608.75,322.59L609.00,322.57L609.25,322.58L609.50,322.48L609.75,322.55L610.00,322.58L610.25,322.59L610.50,322.52L610.75,322.50L611.00,322.51L611.25,322.54L611.50,322.48L611.75,322.49L612.00,322.54L612.25,322.51L612.50,322.55L612.75,322.56L613.00,322.47L613.25,322.60L613.50,322.50L613.75,322.50L614.00,322.53L614.25,322.55L614.50,322.59L614.75,322.55L615.00,322.53L615.25,322.57L615.50,322.60L615.75,322.53L616.00,322.46L616.25,322.55L616.50,322.51L616.75,322.60L617.00,322.54L617.25,322.56L617.50,322.45L617.75,322.49L618.00,322.56L618.25,322.59L618.50,322.50L618.75,322.58L619.00,322.59L619.25,322.38L619.50,322.59L619.75,322.43L620.00,322.55L620.25,322.59L620.50,322.50L620.75,322.53L621.00,322.57L621.25,322.57L621.50,322.59L621.75,322.53L622.00,322.54L622.25,322.56L622.50,322.56L622.75,322.49L623.00,322.54L623.25,322.55L623.50,322.47L623.75,322.59L624.00,322.54L624.25,322.57L624.50,322.58L624.75,322.51L625.00,322.50L625.25,322.51L625.50,322.58L625.75,322.46L626.00,322.52L626.25,322.52L626.50,322.46L626.75,322.58L627.00,322.50L627.25,322.55L627.50,322.58L627.75,322.60L628.00,322.57L628.25,322.48L628.50,322.52L628.75,322.49L629.00,322.51L629.25,322.49L629.50,322.57L629.75,322.55L630.00,322.41L630.25,322.54L630.50,322.58L630.75,322.56L631.00,322.43L631.25,322.56L631.50,322.54L631.75,322.54L632.00,322.52L632.25,322.52L632.50,322.51L632.75,322.49L633.00,322.48L633.25,322.43L633.50,322.38L633.75,322.23L634.00,322.07L634.25,321.58L634.50,321.21L634.75,321.11L635.00,321.10L635.25,321.11L635.50,321.21L635.75,321.58L636.00,322.07L636.25,322.23L636.50,322.38L636.75,322.43L637.00,322.48L637.25,322.49L637.50,322.51L637.75,322.50L638.00,322.53L638.25,322.46L638.50,322.55L638.75,322.56L639.00,322.55L639.25,322.52L639.50,322.49L639.75,322.45L640.00,322.49L640.25,322.48L640.50,322.55L640.75,322.57L641.00,322.51L641.25,322.52L641.50,322.46L641.75,322.53L642.00,322.58L642.25,322.52L642.50,322.57L642.75,322.44L643.00,322.55L643.25,322.56L643.50,322.50L643.75,322.43L644.00,322.54L644.25,322.42L644.50,322.56L644.75,322.54L645.00,322.45L645.25,322.50L645.50,322.47L645.75,322.44L646.00,322.39L646.25,322.34L646.50,322.28L646.75,322.21L647.00,322.13L647.25,322.05L647.50,321.96L647.75,321.86L648.00,321.75L648.25,321.65L648.50,321.48L648.75,321.00L649.00,320.33L649.25,318.83L649.50,316.88L649.75,312.32L650.00,310.20L650.25,309.81L650.40,309.80L650.50,309.80L650.75,310.03L651.00,311.68L651.25,315.86L651.50,318.56L651.75,320.03L652.00,320.91L652.25,321.38L652.50,321.63L652.75,321.73L653.00,321.84L653.25,321.94L653.50,322.03L653.75,322.12L654.00,322.20L654.25,322.27L654.50,322.33L654.75,322.38L655.00,322.43L655.25,322.46L655.50,322.47L655.75,322.52L656.00,322.54L656.25,322.51L656.50,322.54L656.75,322.52L657.00,322.54L657.25,322.56L657.50,322.59L657.75,322.51L658.00,322.50L658.25,322.56L658.50,322.55L658.75,322.56L659.00,322.56L659.25,322.48L659.50,322.56L659.75,322.53L660.00,322.55L660.25,322.46L660.50,322.45L660.75,322.50L661.00,322.58L661.25,322.58L661.50,322.52L661.75,322.45L662.00,322.57L662.25,322.55L662.50,322.56L662.75,322.48L663.00,322.49L663.25,322.58L663.50,322.58L663.75,322.54L664.00,322.54L664.25,322.51L664.50,322.56L664.75,322.60L665.00,322.59L665.25,322.49L665.50,322.58L665.75,322.53L666.00,322.59L666.25,322.45L666.50,322.55L666.75,322.57L667.00,322.47L667.25,322.49L667.50,322.47L667.75,322.54L668.00,322.54L668.25,322.59L668.50,322.55L668.75,322.59L669.00,322.49L669.25,322.55L669.50,322.57L669.75,322.54L670.00,322.53L670.25,322.52L670.50,322.51L670.75,322.49L671.00,322.49L671.25,322.56L671.50,322.39L671.75,322.52L672.00,322.52L672.25,322.55L672.50,322.51L672.75,322.51L673.00,322.48L673.25,322.39L673.50,322.29L673.75,322.04L674.00,321.92L674.25,321.90L674.40,321.90L674.50,321.90L674.75,321.91L675.00,322.00L675.25,322.23L675.50,322.38L675.75,322.44L676.00,322.48L676.25,322.42L676.50,322.52L676.75,322.52L677.00,322.49L677.25,322.56L677.50,322.54L677.75,322.55L678.00,322.52L678.25,322.54L678.50,322.59L678.75,322.45L679.00,322.59L679.25,322.59L679.50,322.54L679.75,322.54L680.00,322.45L680.25,322.50L680.50,322.52L680.75,322.54L681.00,322.50L681.25,322.43L681.50,322.57L681.75,322.54L682.00,322.57L682.25,322.51L682.50,322.53L682.75,322.48L683.00,322.49L683.25,322.59L683.50,322.55L683.75,322.54L684.00,322.48L684.25,322.52L684.50,322.51L684.75,322.57L685.00,322.54L685.25,322.59L685.50,322.58L685.75,322.52L686.00,322.47L686.25,322.52L686.50,322.48L686.75,322.44L687.00,322.55L687.25,322.51L687.50,322.56L687.75,322.59L688.00,322.58L688.25,322.51L688.50,322.52L688.75,322.59L689.00,322.57L689.25,322.51L689.50,322.57L689.75,322.58L690.00,322.52L690.25,322.60L690.50,322.58L690.75,322.59L691.00,322.59L691.25,322.55L691.50,322.57L691.75,322.54L692.00,322.55L692.25,322.50L692.50,322.46L692.75,322.57L693.00,322.57L693.25,322.59L693.50,322.56L693.75,322.56L694.00,322.54L694.25,322.59L694.50,322.51L694.75,322.49L695.00,322.52L695.25,322.55L695.50,322.53L695.75,322.54L696.00,322.51L696.25,322.58L696.50,322.54L696.75,322.57L697.00,322.54L697.25,322.58L697.50,322.59L697.75,322.60L698.00,322.56L698.25,322.31L698.50,322.59L698.75,322.45L699.00,322.58L699.25,322.51L699.50,322.58L699.75,322.57L700.00,322.59L700.25,322.59L700.50,322.56L700.75,322.55L701.00,322.53L701.25,322.50L701.50,322.60L701.75,322.52L702.00,322.58L702.25,322.59L702.50,322.59L702.75,322.56L703.00,322.53L703.25,322.58L703.50,322.55L703.75,322.54L704.00,322.47L704.25,322.58L704.50,322.58L704.75,322.48L705.00,322.51L705.25,322.56L705.50,322.57L705.75,322.41L706.00,322.57L706.25,322.56L706.50,322.58L706.75,322.49L707.00,322.49L707.25,322.57L707.50,322.57L707.75,322.56L708.00,322.51L708.25,322.48L708.50,322.53L708.75,322.48L709.00,322.42L709.25,322.26L709.50,322.14L709.75,322.10L710.00,322.10L710.25,322.10L710.50,322.14L710.75,322.26L711.00,322.42L711.25,322.48L711.50,322.53L711.75,322.54L712.00,322.56L712.25,322.55L712.50,322.48L712.75,322.51L713.00,322.56L713.25,322.49L713.50,322.47L713.75,322.50L714.00,322.54L714.25,322.50L714.50,322.59L714.75,322.58L715.00,322.59L715.25,322.58L715.50,322.56L715.75,322.57L716.00,322.53L716.25,322.58L716.50,322.58L716.75,322.59L717.00,322.56L717.25,322.53L717.50,322.58L717.75,322.58L718.00,322.57L718.25,322.48L718.50,322.53L718.75,322.52L719.00,322.55L719.25,322.57L719.50,322.47L719.75,322.52L720.00,322.56L720.25,322.53L720.50,322.51L720.75,322.54L721.00,322.58L721.25,322.57L721.50,322.57L721.75,322.58L722.00,322.54L722.25,322.60L722.50,322.55L722.75,322.60L723.00,322.56L723.25,322.51L723.50,322.59L723.75,322.57L724.00,322.58L724.25,322.54L724.50,322.56L724.75,322.40L725.00,322.58L725.25,322.57L725.50,322.57L725.75,322.39L726.00,322.59L726.25,322.54L726.50,322.49L726.75,322.58L727.00,322.54L727.25,322.58L727.50,322.59L727.75,322.56L728.00,322.60L728.25,322.49L728.50,322.58L728.75,322.54L729.00,322.44L729.25,322.54L729.50,322.58L729.75,322.51L730.00,322.52L730.25,322.47L730.50,322.51L730.75,322.57L731.00,322.56L731.25,322.55L731.50,322.54L731.75,322.53L732.00,322.52L732.25,322.43L732.50,322.50L732.75,322.44L733.00,322.43L733.25,322.34L733.50,322.19L733.75,321.92L734.00,321.49L734.25,321.32L734.50,321.30L734.60,321.30L734.75,321.30L735.00,321.34L735.25,321.56L735.50,322.02L735.75,322.22L736.00,322.37L736.25,322.44L736.50,322.49L736.75,322.50L737.00,322.51L737.25,322.48L737.50,322.52L737.75,322.54L738.00,322.55L738.25,322.56L738.50,322.45L738.75,322.54L739.00,322.56L739.25,322.56L739.50,322.55L739.75,322.53L740.00,322.54L740.25,322.51L740.50,322.48L740.75,322.40L741.00,322.32L741.25,322.06L741.50,321.86L741.75,321.80L742.00,321.80L742.25,321.80L742.50,321.86L742.75,322.06L743.00,322.32L743.25,322.40L743.50,322.48L743.75,322.50L744.00,322.54L744.25,322.43L744.50,322.49L744.75,322.56L745.00,322.51L745.25,322.57L745.50,322.53L745.75,322.43L746.00,322.54L746.25,322.47L746.50,322.51L746.75,322.49L747.00,322.45L747.25,322.45L747.50,322.42L747.75,322.41L748.00,322.39L748.25,322.30L748.50,322.21L748.75,321.93L749.00,321.65L749.25,320.77L749.50,320.10L749.75,319.91L750.00,319.90L750.25,319.91L750.50,320.10L750.75,320.77L751.00,321.65L751.25,321.93L751.50,322.21L751.75,322.30L752.00,322.39L752.25,322.41L752.50,322.43L752.75,322.45L753.00,322.47L753.25,322.48L753.50,322.49L753.75,322.52L754.00,322.54L754.25,322.55L754.50,322.51L754.75,322.56L755.00,322.56L755.25,322.55L755.50,322.51L755.75,322.58L756.00,322.52L756.25,322.51L756.50,322.56L756.75,322.55L757.00,322.49L757.25,322.53L757.50,322.52L757.75,322.50L758.00,322.49L758.25,322.47L758.50,322.45L758.75,322.44L759.00,322.36L759.25,322.29L759.50,322.06L759.75,321.86L760.00,321.11L760.25,320.70L760.50,320.60L760.70,320.60L760.75,320.60L761.00,320.62L761.25,320.81L761.50,321.39L761.75,321.93L762.00,322.15L762.25,322.32L762.50,322.39L762.75,322.41L763.00,322.46L763.25,322.48L763.50,322.49L763.75,322.51L764.00,322.52L764.25,322.36L764.50,322.52L764.75,322.53L765.00,322.54L765.25,322.52L765.50,322.46L765.75,322.58L766.00,322.52L766.25,322.54L766.50,322.56L766.75,322.52L767.00,322.53L767.25,322.49L767.50,322.48L767.75,322.44L768.00,322.41L768.25,322.36L768.50,322.31L768.75,322.25L769.00,322.18L769.25,322.11L769.50,322.03L769.75,321.95L770.00,321.87L770.25,321.79L770.50,321.42L770.75,321.06L771.00,319.88L771.25,318.91L771.50,315.15L771.75,313.09L772.00,312.62L772.20,312.60L772.25,312.60L772.50,312.70L772.75,313.66L773.00,316.55L773.25,319.25L773.50,320.35L773.75,321.21L774.00,321.57L774.25,321.82L774.50,321.91L774.75,321.99L775.00,322.07L775.25,322.14L775.50,322.21L775.75,322.27L776.00,322.33L776.25,322.38L776.50,322.42L776.75,322.46L777.00,322.48L777.25,322.51L777.50,322.53L777.75,322.43L778.00,322.55L778.25,322.53L778.50,322.54L778.75,322.53L779.00,322.48L779.25,322.39L779.50,322.57L779.75,322.54L780.00,322.55L780.25,322.45L780.50,322.54L780.75,322.50L781.00,322.48L781.25,322.44L781.50,322.38L781.75,322.31L782.00,322.22L782.25,322.10L782.50,321.95L782.75,321.78L783.00,321.56L783.25,321.31L783.50,321.03L783.75,320.70L784.00,320.33L784.25,319.92L784.50,319.49L784.75,318.91L785.00,313.51L785.25,305.16L785.50,295.19L785.75,285.66L786.00,262.74L786.25,233.49L786.50,161.79L786.75,84.96L787.00,59.33L787.25,56.70L787.30,56.70L787.50,57.22L787.75,69.76L788.00,124.59L788.25,224.39L788.50,250.23L788.75,281.64L789.00,291.21L789.25,301.25L789.50,310.48L789.75,317.13L790.00,319.30L790.25,319.75L790.50,320.17L790.75,320.55L791.00,320.90L791.25,321.20L791.50,321.47L791.75,321.69L792.00,321.89L792.25,322.04L792.50,322.17L792.75,322.27L793.00,322.35L793.25,322.28L793.50,322.37L793.75,322.41L794.00,322.37L794.25,322.33L794.50,322.28L794.75,322.22L795.00,322.16L795.25,322.10L795.50,322.04L795.75,321.90L796.00,321.63L796.25,321.13L796.50,320.30L796.75,318.75L797.00,316.37L797.25,315.43L797.50,315.30L797.60,315.30L797.75,315.30L798.00,315.53L798.25,316.74L798.50,319.34L798.75,320.45L799.00,321.31L799.25,321.69L799.50,321.96L799.75,322.06L800.00,322.12L800.25,322.18L800.50,322.23L800.75,322.29L801.00,322.25L801.25,322.26L801.50,322.34L801.75,322.35L802.00,322.30L802.25,322.24L802.50,322.27L802.75,322.33L803.00,322.34L803.25,322.28L803.50,322.32L803.75,322.24L804.00,322.27L804.25,322.23L804.50,322.16L804.75,321.97L805.00,321.71L805.25,321.13L805.50,320.37L805.75,318.58L806.00,317.75L806.25,317.60L806.40,317.60L806.50,317.60L806.75,317.69L807.00,318.34L807.25,319.97L807.50,321.02L807.75,321.59L808.00,321.88L808.25,321.73L808.50,321.56L808.75,321.36L809.00,321.16L809.25,320.93L809.50,320.70L809.75,320.46L810.00,320.08L810.25,319.00L810.50,317.51L810.75,314.15L811.00,309.78L811.25,299.55L811.50,294.79L811.75,293.92L811.90,293.90L812.00,293.90L812.25,294.42L812.50,298.12L812.75,307.48L813.00,313.54L813.25,316.83L813.50,318.80L813.75,319.86L814.00,320.42L814.25,320.65L814.50,320.89L814.75,321.11L815.00,321.32L815.25,321.52L815.50,321.70L815.75,321.86L816.00,321.99L816.25,322.10L816.50,322.14L816.75,322.22L817.00,322.21L817.25,322.10L817.50,322.17L817.75,322.13L818.00,322.18L818.25,322.16L818.50,322.15L818.75,322.13L819.00,322.13L819.25,322.14L819.50,322.20L819.75,322.12L820.00,322.15L820.25,322.14L820.50,322.13L820.75,322.08L821.00,322.11L821.25,321.99L821.50,322.00L821.75,321.92L822.00,321.70L822.25,321.39L822.50,320.64L822.75,319.68L823.00,317.34L823.25,314.82L823.50,313.99L823.75,313.90L823.80,313.90L824.00,313.92L824.25,314.33L824.50,316.12L824.75,319.39L825.00,320.23L825.25,321.26L825.50,321.57L825.75,321.90L826.00,321.97L826.25,322.04L826.50,322.09L826.75,322.11L827.00,322.19L827.25,322.18L827.50,322.11L827.75,322.15L828.00,322.12L828.25,322.18L828.50,322.20L828.75,322.04L829.00,322.10L829.25,322.14L829.50,322.09L829.75,322.18L830.00,322.14L830.25,322.17L830.50,322.17L830.75,322.15L831.00,322.12L831.25,322.17L831.50,322.18L831.75,322.17L832.00,322.16L832.25,322.17L832.50,322.13L832.75,322.06L833.00,322.18L833.25,322.20L833.50,322.08L833.75,322.12L834.00,322.19L834.25,322.16L834.50,322.11L834.75,322.15L835.00,322.02L835.25,322.10L835.50,322.05L835.75,322.15L836.00,322.13L836.25,322.12L836.50,322.18L836.75,322.18L837.00,322.15L837.25,322.06L837.50,322.17L837.75,322.13L838.00,322.15L838.25,322.14L838.50,322.19L838.75,322.16L839.00,322.19L839.25,322.20L839.50,322.18L839.75,322.17L840.00,322.16L840.25,322.14L840.50,322.14L840.75,322.06L841.00,322.15L841.25,322.08L841.50,321.98L841.75,322.14L842.00,322.14L842.25,322.07L842.50,321.99L842.75,321.99L843.00,322.09L843.25,322.08L843.50,322.13L843.75,322.18L844.00,322.17L844.25,322.13L844.50,322.14L844.75,322.11L845.00,322.18L845.25,322.12L845.50,322.11L845.75,322.17L846.00,322.19L846.25,322.09L846.50,322.11L846.75,322.17L847.00,322.08L847.25,322.20L847.50,322.14L847.75,322.15L848.00,322.19L848.25,322.14L848.50,322.12L848.75,322.14L849.00,322.12L849.25,322.20L849.50,322.13L849.75,322.16L850.00,322.16L850.25,322.11L850.50,322.15L850.75,322.12L851.00,322.03L851.25,322.10L851.50,322.18L851.75,322.18L852.00,322.17L852.25,322.20L852.50,322.08L852.75,322.12L853.00,322.13L853.25,322.14L853.50,322.09L853.75,322.18L854.00,322.18L854.25,322.11L854.50,322.17L854.75,322.18L855.00,322.16L855.25,322.04L855.50,322.13L855.75,322.10L856.00,322.15L856.25,322.14L856.50,322.14L856.75,322.19L857.00,322.20L857.25,322.07L857.50,322.19L857.75,322.08L858.00,322.18L858.25,322.17L858.50,322.20L858.75,322.04L859.00,322.16L859.25,322.15L859.50,322.19L859.75,322.18L860.00,322.12L860.25,322.11L860.50,322.10L860.75,322.12L861.00,322.16L861.25,322.12L861.50,322.16L861.75,322.10L862.00,322.11L862.25,322.05L862.50,322.18L862.75,322.09L863.00,322.17L863.25,322.17L863.50,322.05L863.75,322.02L864.00,322.07L864.25,322.18L864.50,322.20L864.75,322.18L865.00,322.18L865.25,322.15L865.50,322.03L865.75,322.18L866.00,322.13L866.25,322.10L866.50,322.16L866.75,322.19L867.00,322.18L867.25,322.08L867.50,322.16L867.75,322.04L868.00,322.12L868.25,322.07L868.50,322.18L868.75,322.15L869.00,322.16L869.25,322.11L869.50,322.12L869.75,322.14L870.00,322.11L870.25,322.15L870.50,322.19L870.75,322.14L871.00,322.15L871.25,322.20L871.50,322.13L871.75,322.19L872.00,322.13L872.25,322.09L872.50,322.07L872.75,322.14L873.00,322.09L873.25,322.18L873.50,322.02L873.75,321.56L874.00,321.34L874.25,321.30L874.40,321.30L874.50,321.30L874.75,321.32L875.00,321.49L875.25,321.92L875.50,322.14L875.75,322.05L876.00,322.10L876.25,322.19L876.50,322.19L876.75,322.16L877.00,322.19L877.25,322.15L877.50,322.17L877.75,322.20L878.00,322.15L878.25,322.15L878.50,322.19L878.75,322.19L879.00,322.11L879.25,322.07L879.50,322.19L879.75,322.09L880.00,322.11L880.25,322.14L880.50,322.16L880.75,322.20L881.00,322.18L881.25,322.19L881.50,322.15L881.75,322.20L882.00,322.04L882.25,322.02L882.50,322.19L882.75,322.17L883.00,322.12L883.25,322.09L883.50,322.03L883.75,322.17L884.00,322.03L884.25,322.16L884.50,322.19L884.75,322.16L885.00,322.15L885.25,322.11L885.50,322.17L885.75,322.19L886.00,322.19L886.25,322.09L886.50,322.13L886.75,322.12L887.00,322.15L887.25,322.17L887.50,322.15L887.75,322.17L888.00,322.12L888.25,322.18L888.50,322.17L888.75,322.12L889.00,322.20L889.25,322.03L889.50,322.19L889.75,321.94L890.00,322.12L890.25,322.16L890.50,322.16L890.75,321.97L891.00,322.19L891.25,322.19L891.50,322.05L891.75,322.09L892.00,322.05L892.25,322.18L892.50,322.14L892.75,322.00L893.00,322.19L893.25,322.17L893.50,322.15L893.75,322.19L894.00,322.11L894.25,322.12L894.50,322.14L894.75,322.15L895.00,322.12L895.25,322.11L895.50,322.20L895.75,322.09L896.00,322.09L896.25,322.09L896.50,322.14L896.75,322.19L897.00,322.17L897.25,322.20L897.50,322.20L897.75,322.17L898.00,322.14L898.25,322.03L898.50,322.18L898.75,322.15L899.00,322.10L899.25,322.14L899.50,322.14L899.75,322.14L900.00,322.18L900.25,322.20L900.50,322.18L900.75,322.11L901.00,322.10L901.25,322.17L901.50,322.00L901.75,322.14L902.00,322.19L902.25,322.13L902.50,322.18L902.75,322.09L903.00,322.12L903.25,322.19L903.50,322.17L903.75,322.19L904.00,322.12L904.25,322.12L904.50,322.17L904.75,322.20L905.00,322.18L905.25,322.16L905.50,322.13L905.75,322.20L906.00,322.16L906.25,322.17L906.50,322.09L906.75,322.12L907.00,322.14L907.25,322.16L907.50,322.07L907.75,322.20L908.00,322.13L908.25,322.09L908.50,322.12L908.75,322.15L909.00,322.19"/>
<path clip-path="url(#cb)" fill="#AD4700" d="M121.00,626.37L121.50,626.17L122.00,625.45L122.50,626.45L123.00,626.47L123.50,627.13L124.00,627.54L124.50,625.46L125.00,624.16L125.50,612.84L126.00,610.30L126.10,610.30L126.50,610.83L127.00,620.36L127.50,626.80L128.00,627.89L128.50,627.33L129.00,627.21L129.50,627.79L130.00,627.77L130.50,627.17L131.00,625.26L131.50,625.34L132.00,627.27L132.50,627.54L133.00,626.91L133.50,627.06L134.00,627.60L134.50,627.70L135.00,628.08L135.50,628.05L136.00,628.16L136.50,627.79L137.00,625.95L137.50,624.88L138.00,625.03L138.50,627.25L139.00,625.99L139.50,625.98L140.00,626.64L140.50,627.84L141.00,627.91L141.50,628.23L142.00,627.88L142.50,628.32L143.00,628.33L143.50,627.07L144.00,626.56L144.50,626.71L145.00,628.04L145.50,628.13L146.00,627.41L146.50,626.79L147.00,626.44L147.50,627.20L148.00,627.38L148.50,628.28L149.00,628.19L149.50,628.04L150.00,628.08L150.50,627.00L151.00,627.03L151.50,627.62L152.00,627.64L152.50,627.55L153.00,627.66L153.50,625.55L154.00,625.63L154.50,627.48L155.00,628.04L155.50,628.05L156.00,627.82L156.50,625.67L157.00,625.37L157.50,625.97L158.00,628.26L158.50,628.20L159.00,627.63L159.50,627.89L160.00,627.89L160.50,628.44L161.00,628.29L161.50,628.40L162.00,628.05L162.50,628.22L163.00,627.71L163.50,626.68L164.00,626.57L164.50,628.16L165.00,627.42L165.50,626.40L166.00,624.52L166.50,621.93L167.00,622.52L167.50,625.25L168.00,627.04L168.50,627.98L169.00,628.18L169.50,628.14L170.00,624.24L170.50,623.56L171.00,625.57L171.50,628.08L172.00,627.89L172.50,628.09L173.00,628.22L173.50,628.43L174.00,628.50L174.50,628.22L175.00,627.72L175.50,625.74L176.00,625.49L176.50,625.98L177.00,625.99L177.50,625.14L178.00,625.90L178.50,627.74L179.00,628.17L179.50,628.34L180.00,627.66L180.50,625.93L181.00,625.80L181.50,627.02L182.00,628.37L182.50,628.18L183.00,627.31L183.50,625.19L184.00,625.76L184.50,627.22L185.00,627.86L185.50,627.67L186.00,628.02L186.50,628.37L187.00,627.13L187.50,626.34L188.00,626.69L188.50,628.04L189.00,628.24L189.50,627.49L190.00,627.31L190.50,626.88L191.00,626.92L191.50,626.68L192.00,627.42L192.50,628.21L193.00,628.56L193.50,628.30L194.00,628.35L194.50,628.35L195.00,626.88L195.50,625.98L196.00,626.27L196.50,627.80L197.00,627.78L197.50,627.78L198.00,628.29L198.50,628.47L199.00,628.78L199.50,628.78L200.00,628.57L200.50,628.41L201.00,628.08L201.50,626.68L202.00,626.52L202.50,627.69L203.00,628.77L203.50,628.69L204.00,626.88L204.50,626.72L205.00,626.20L205.50,626.43L206.00,625.49L206.50,627.48L207.00,628.26L207.50,628.50L208.00,628.77L208.50,626.85L209.00,625.54L209.50,625.80L210.00,628.48L210.50,628.32L211.00,627.15L211.50,625.42L212.00,625.92L212.50,627.89L213.00,627.73L213.50,628.06L214.00,623.73L214.50,622.70L214.60,622.70L215.00,622.91L215.50,626.79L216.00,628.50L216.50,628.91L217.00,628.45L217.50,628.48L218.00,628.45L218.50,628.33L219.00,626.46L219.50,626.11L220.00,626.84L220.50,628.47L221.00,628.69L221.50,628.37L222.00,625.76L222.50,624.24L223.00,623.52L223.50,623.66L224.00,624.83L224.50,625.26L225.00,627.25L225.50,627.51L226.00,628.53L226.50,628.62L227.00,628.90L227.50,628.96L228.00,628.13L228.50,626.00L229.00,624.02L229.50,624.77L230.00,626.92L230.50,628.78L231.00,628.65L231.50,628.83L232.00,627.99L232.50,626.90L233.00,627.33L233.50,628.37L234.00,627.45L234.50,626.70L235.00,626.68L235.50,628.43L236.00,628.46L236.50,628.66L237.00,627.96L237.50,626.98L238.00,626.40L238.50,628.16L239.00,628.36L239.50,628.79L240.00,626.86L240.50,626.60L241.00,625.95L241.50,627.06L242.00,627.39L242.50,627.39L243.00,626.20L243.50,625.99L244.00,627.70L244.50,626.32L245.00,625.92L245.50,627.17L246.00,628.01L246.50,628.62L247.00,629.05L247.50,628.50L248.00,626.56L248.50,623.93L249.00,624.39L249.50,626.67L250.00,627.21L250.50,625.73L251.00,626.90L251.50,627.22L252.00,626.43L252.50,626.67L253.00,628.73L253.50,628.46L254.00,628.67L254.50,627.22L255.00,626.84L255.50,627.57L256.00,628.71L256.50,628.97L257.00,628.79L257.50,628.56L258.00,628.87L258.50,628.57L259.00,629.00L259.50,628.28L260.00,628.49L260.50,628.91L261.00,629.13L261.50,628.69L262.00,627.52L262.50,626.70L263.00,627.58L263.50,629.01L264.00,628.23L264.50,627.21L265.00,627.81L265.50,628.67L266.00,629.05L266.50,628.72L267.00,628.82L267.50,629.07L268.00,628.95L268.50,628.86L269.00,627.60L269.50,627.75L270.00,628.32L270.50,628.90L271.00,629.06L271.50,629.19L272.00,628.73L272.50,627.96L273.00,626.69L273.50,625.70L274.00,625.96L274.50,626.79L275.00,628.42L275.50,629.04L276.00,628.66L276.50,627.27L277.00,627.52L277.50,628.41L278.00,628.27L278.50,628.39L279.00,628.66L279.50,629.00L280.00,628.83L280.50,627.35L281.00,627.09L281.50,627.24L282.00,628.72L282.50,627.79L283.00,627.58L283.50,628.04L284.00,628.88L284.50,628.25L285.00,628.20L285.50,628.96L286.00,629.12L286.50,628.71L287.00,626.47L287.50,624.85L288.00,625.70L288.50,628.37L289.00,628.73L289.50,628.76L290.00,628.91L290.50,628.80L291.00,626.96L291.50,626.99L292.00,627.72L292.50,627.50L293.00,627.19L293.50,626.74L294.00,627.87L294.50,628.08L295.00,629.14L295.50,628.73L296.00,628.42L296.50,627.93L297.00,628.16L297.50,628.90L298.00,628.98L298.50,628.66L299.00,627.12L299.50,625.57L300.00,626.15L300.50,625.99L301.00,627.33L301.50,627.01L302.00,626.89L302.50,626.87L303.00,628.58L303.50,627.93L304.00,626.30L304.50,624.77L305.00,626.30L305.50,627.40L306.00,628.77L306.50,628.76L307.00,629.12L307.50,628.78L308.00,627.72L308.50,627.46L309.00,628.09L309.50,627.22L310.00,627.36L310.50,627.95L311.00,628.09L311.50,627.91L312.00,628.59L312.50,628.79L313.00,628.79L313.50,628.63L314.00,628.24L314.50,626.98L315.00,627.45L315.50,628.26L316.00,629.12L316.50,628.80L317.00,628.77L317.50,628.54L318.00,628.40L318.50,627.82L319.00,626.89L319.50,626.75L320.00,627.74L320.50,628.27L321.00,628.65L321.50,628.95L322.00,628.47L322.50,624.25L323.00,623.80L323.50,624.25L324.00,628.47L324.50,629.14L325.00,628.88L325.50,628.79L326.00,629.16L326.50,628.89L327.00,628.78L327.50,628.11L328.00,627.18L328.50,627.55L329.00,628.07L329.50,629.05L330.00,628.90L330.50,628.87L331.00,628.48L331.50,628.71L332.00,628.95L332.50,628.91L333.00,629.05L333.50,628.87L334.00,628.71L334.50,628.66L335.00,626.42L335.40,626.30L335.50,626.30L336.00,626.90L336.50,625.37L337.00,624.82L337.50,625.56L338.00,627.33L338.50,628.82L339.00,628.49L339.50,627.61L340.00,627.34L340.50,626.82L341.00,627.06L341.50,627.96L342.00,628.93L342.50,627.60L343.00,626.76L343.50,627.01L344.00,627.30L344.50,627.15L345.00,627.12L345.50,628.49L346.00,626.86L346.50,624.92L347.00,624.74L347.50,625.61L348.00,627.48L348.50,627.95L349.00,627.53L349.50,627.23L350.00,625.51L350.50,626.38L351.00,627.35L351.50,628.64L352.00,628.68L352.50,628.47L353.00,627.15L353.50,627.08L354.00,628.56L354.50,629.06L355.00,628.98L355.50,628.62L356.00,628.75L356.50,628.53L357.00,628.56L357.50,628.53L358.00,626.63L358.50,619.17L359.00,615.92L359.20,615.90L359.50,616.02L360.00,621.04L360.50,627.28L361.00,629.08L361.50,627.13L362.00,626.86L362.50,627.48L363.00,629.07L363.50,629.04L364.00,628.97L364.50,629.04L365.00,629.03L365.50,628.87L366.00,628.49L366.50,628.80L367.00,628.19L367.50,628.34L368.00,628.17L368.50,628.83L369.00,628.72L369.50,628.06L370.00,623.21L370.50,622.70L371.00,623.21L371.50,628.06L372.00,627.35L372.50,627.05L373.00,627.68L373.50,628.96L374.00,628.82L374.50,629.16L375.00,628.66L375.50,628.32L376.00,628.34L376.50,628.52L377.00,629.06L377.50,628.84L378.00,628.99L378.50,628.93L379.00,628.20L379.50,627.89L380.00,627.76L380.50,628.47L381.00,628.37L381.50,626.93L382.00,626.84L382.50,628.16L383.00,625.77L383.50,624.31L383.70,624.30L384.00,624.36L384.50,626.62L385.00,628.40L385.50,628.90L386.00,628.98L386.50,628.62L387.00,626.92L387.50,627.08L388.00,626.48L388.50,626.73L389.00,627.08L389.50,628.30L390.00,628.77L390.50,628.85L391.00,628.73L391.50,628.54L392.00,628.58L392.50,628.89L393.00,628.76L393.50,628.85L394.00,629.04L394.50,628.00L395.00,627.58L395.50,627.64L396.00,628.57L396.50,628.75L397.00,628.79L397.50,628.52L398.00,628.42L398.50,627.56L399.00,627.51L399.50,628.50L400.00,628.99L400.50,629.16L401.00,628.96L401.50,628.67L402.00,628.78L402.50,628.80L403.00,628.97L403.50,628.76L404.00,628.82L404.50,628.95L405.00,629.02L405.50,629.09L406.00,628.69L406.50,628.50L407.00,628.57L407.50,628.16L408.00,626.91L408.50,627.28L409.00,627.89L409.50,626.87L410.00,626.58L410.50,627.00L411.00,627.20L411.50,627.30L412.00,627.44L412.50,628.78L413.00,629.12L413.50,628.84L414.00,628.22L414.50,627.62L415.00,627.58L415.50,627.59L416.00,627.73L416.50,628.57L417.00,628.96L417.50,629.03L418.00,628.67L418.50,628.28L419.00,628.26L419.50,628.27L420.00,627.85L420.50,627.86L421.00,628.57L421.50,627.07L422.00,626.05L422.50,626.92L423.00,628.76L423.50,628.87L424.00,628.85L424.50,629.00L425.00,628.99L425.50,627.65L426.00,626.75L426.50,627.15L427.00,628.46L427.50,627.61L428.00,627.95L428.50,628.59L429.00,628.93L429.50,628.73L430.00,629.18L430.50,628.88L431.00,629.19L431.50,628.92L432.00,629.14L432.50,628.87L433.00,629.02L433.50,628.87L434.00,629.07L434.50,629.10L435.00,628.84L435.50,628.80L436.00,629.04L436.50,629.10L437.00,628.09L437.50,627.30L438.00,627.04L438.50,628.25L439.00,628.22L439.50,628.13L440.00,628.44L440.50,628.91L441.00,629.06L441.50,627.98L442.00,627.84L442.50,628.03L443.00,628.68L443.50,628.42L444.00,627.79L444.50,626.77L445.00,627.32L445.50,628.55L446.00,628.85L446.50,629.01L447.00,628.61L447.50,628.73L448.00,628.95L448.50,628.30L449.00,627.54L449.50,627.30L450.00,628.77L450.50,628.08L451.00,627.94L451.50,628.22L452.00,628.87L452.50,628.97L453.00,628.91L453.50,628.80L454.00,628.89L454.50,628.36L455.00,628.07L455.50,627.91L456.00,627.85L456.50,628.10L457.00,628.69L457.50,628.76L458.00,629.17L458.50,629.17L459.00,628.81L459.50,628.61L460.00,627.85L460.50,627.74L461.00,628.01L461.50,628.31L462.00,628.57L462.50,627.17L463.00,625.15L463.50,625.90L464.00,627.73L464.50,628.71L465.00,627.55L465.50,627.19L466.00,627.53L466.50,628.90L467.00,629.20L467.50,628.99L468.00,629.05L468.50,628.38L469.00,628.32L469.50,628.45L470.00,628.84L470.50,628.45L471.00,628.74L471.50,628.47L472.00,628.88L472.50,629.15L473.00,629.19L473.50,628.75L474.00,628.91L474.50,628.77L475.00,627.93L475.50,628.05L476.00,628.48L476.50,628.94L477.00,627.86L477.50,627.22L478.00,627.52L478.50,628.76L479.00,628.15L479.50,628.52L480.00,628.65L480.50,629.02L481.00,629.16L481.50,628.90L482.00,628.49L482.50,628.59L483.00,628.39L483.50,628.69L484.00,629.06L484.50,628.74L485.00,628.83L485.50,628.88L486.00,629.10L486.50,629.06L487.00,628.96L487.50,627.43L488.00,627.40L488.50,627.90L489.00,626.54L489.50,626.61L490.00,627.89L490.50,628.90L491.00,627.69L491.50,627.18L492.00,627.70L492.50,628.55L493.00,628.27L493.50,628.17L494.00,628.98L494.50,629.11L495.00,628.77L495.50,628.57L496.00,628.10L496.50,628.18L497.00,628.40L497.50,628.75L498.00,626.85L498.50,625.12L499.00,626.29L499.50,628.16L500.00,628.86L500.50,629.12L501.00,628.92L501.50,627.65L502.00,626.86L502.50,627.20L503.00,628.54L503.50,628.82L504.00,628.57L504.50,628.57L505.00,628.55L505.50,628.46L506.00,628.90L506.50,628.38L507.00,628.15L507.50,628.59L508.00,628.84L508.50,629.12L509.00,629.13L509.50,628.83L510.00,629.01L510.50,628.77L511.00,629.08L511.50,629.08L512.00,628.77L512.50,628.73L513.00,627.81L513.50,627.73L514.00,628.36L514.50,629.04L515.00,627.24L515.50,626.36L516.00,626.90L516.50,628.74L517.00,627.81L517.50,626.86L518.00,626.65L518.50,628.59L519.00,629.07L519.50,627.62L520.00,624.47L520.40,624.30L520.50,624.30L521.00,625.14L521.50,628.87L522.00,628.76L522.50,628.90L523.00,628.98L523.50,629.13L524.00,628.97L524.50,628.74L525.00,628.91L525.50,628.97L526.00,628.90L526.50,628.91L527.00,628.54L527.50,628.70L528.00,628.87L528.50,629.19L529.00,628.78L529.50,629.20L530.00,629.07L530.50,628.80L531.00,627.68L531.50,627.36L532.00,628.33L532.50,629.14L533.00,629.12L533.50,628.95L534.00,628.31L534.50,625.76L535.00,625.54L535.50,626.54L536.00,627.15L536.50,624.25L537.00,623.80L537.50,624.25L538.00,626.88L538.50,628.77L539.00,628.71L539.50,629.08L540.00,629.05L540.50,628.23L541.00,627.61L541.50,627.43L542.00,628.44L542.50,627.39L543.00,626.79L543.50,626.58L544.00,627.43L544.50,627.84L545.00,627.82L545.50,627.90L546.00,628.52L546.50,628.72L547.00,628.83L547.50,628.99L548.00,628.90L548.50,628.00L549.00,627.61L549.50,627.58L550.00,629.04L550.50,629.19L551.00,628.87L551.50,627.27L552.00,625.61L552.50,625.94L553.00,626.93L553.50,628.67L554.00,627.97L554.50,627.00L555.00,627.28L555.50,628.90L556.00,629.07L556.50,626.83L557.00,626.98L557.50,627.73L558.00,628.79L558.50,628.50L559.00,628.16L559.50,627.98L560.00,628.35L560.50,626.69L561.00,627.18L561.50,627.94L562.00,628.82L562.50,629.05L563.00,628.72L563.50,628.71L564.00,625.49L564.50,616.18L565.00,612.13L565.20,612.10L565.50,612.25L566.00,618.52L566.50,626.08L567.00,627.09L567.50,626.70L568.00,627.67L568.50,628.08L569.00,626.38L569.50,626.17L570.00,626.98L570.50,627.48L571.00,627.85L571.50,627.50L572.00,625.94L572.50,624.73L573.00,626.54L573.50,628.03L574.00,629.01L574.50,629.14L575.00,628.86L575.50,628.85L576.00,628.28L576.50,627.56L577.00,627.08L577.50,627.88L578.00,627.71L578.50,628.90L579.00,629.01L579.50,628.91L580.00,629.11L580.50,628.77L581.00,628.30L581.50,627.93L582.00,627.10L582.50,626.71L583.00,626.77L583.50,628.76L584.00,628.78L584.50,628.47L585.00,628.20L585.50,627.86L586.00,628.11L586.50,627.67L587.00,625.76L587.50,625.89L588.00,628.39L588.50,628.92L589.00,629.07L589.50,629.10L590.00,629.07L590.50,628.83L591.00,628.74L591.50,628.91L592.00,628.86L592.50,629.07L593.00,628.70L593.50,627.60L594.00,627.22L594.50,627.97L595.00,628.75L595.50,628.92L596.00,628.90L596.50,628.08L597.00,627.88L597.50,628.77L598.00,628.94L598.50,628.98L599.00,629.16L599.50,629.19L600.00,628.78L600.50,628.85L601.00,627.36L601.50,627.40L602.00,628.01L602.50,629.10L603.00,628.96L603.50,628.90L604.00,628.13L604.50,628.34L605.00,626.92L605.50,626.87L606.00,627.36L606.50,629.01L607.00,627.85L607.50,626.58L608.00,626.68L608.50,628.00L609.00,622.78L609.50,620.52L609.70,620.50L610.00,620.59L610.50,624.10L611.00,628.46L611.50,628.73L612.00,629.17L612.50,628.71L613.00,627.55L613.50,627.56L614.00,628.30L614.50,628.78L615.00,628.53L615.50,626.92L616.00,626.67L616.50,626.89L617.00,628.33L617.50,628.89L618.00,628.78L618.50,629.20L619.00,628.80L619.50,627.40L620.00,625.43L620.50,625.77L621.00,628.03L621.50,627.52L622.00,627.65L622.50,628.51L623.00,628.91L623.50,628.93L624.00,629.00L624.50,629.20L625.00,628.96L625.50,628.74L626.00,628.08L626.50,627.10L627.00,627.58L627.50,629.04L628.00,628.35L628.50,626.94L629.00,626.78L629.50,628.02L630.00,627.81L630.50,625.72L631.00,624.97L631.50,626.32L632.00,628.92L632.50,628.13L633.00,628.12L633.50,627.85L634.00,626.16L634.50,618.80L635.00,607.90L635.40,607.30L635.50,607.30L636.00,610.21L636.50,623.15L637.00,627.53L637.50,628.79L638.00,629.12L638.50,628.70L639.00,629.08L639.50,629.06L640.00,629.04L640.50,628.29L641.00,628.23L641.50,627.51L642.00,627.50L642.50,627.62L643.00,627.19L643.50,626.98L644.00,626.47L644.50,627.07L645.00,627.93L645.50,628.45L646.00,628.20L646.50,628.65L647.00,626.96L647.50,626.57L648.00,620.47L648.50,607.90L649.00,577.72L649.50,490.41L650.00,452.49L650.20,452.20L650.50,453.64L651.00,512.36L651.50,585.38L652.00,610.33L652.50,622.71L653.00,628.09L653.50,627.21L654.00,627.24L654.50,627.90L655.00,628.94L655.50,628.86L656.00,628.57L656.50,628.57L657.00,628.38L657.50,628.38L658.00,628.05L658.50,628.96L659.00,629.00L659.50,628.76L660.00,629.10L660.50,628.63L661.00,627.91L661.50,627.88L662.00,628.26L662.50,628.49L663.00,628.62L663.50,628.50L664.00,629.00L664.50,628.79L665.00,629.14L665.50,629.06L666.00,628.73L666.50,626.76L667.00,626.85L667.50,628.11L668.00,628.52L668.50,627.81L669.00,626.09L669.50,627.05L670.00,627.68L670.50,628.76L671.00,628.77L671.50,628.76L672.00,628.17L672.50,627.33L673.00,623.95L673.50,614.08L674.00,586.57L674.50,580.41L674.60,580.40L675.00,581.68L675.50,604.84L676.00,620.50L676.50,626.00L677.00,627.77L677.50,627.37L678.00,628.22L678.50,628.19L679.00,628.42L679.50,629.17L680.00,628.70L680.50,628.38L681.00,627.58L681.50,627.48L682.00,626.93L682.50,627.56L683.00,628.58L683.50,628.77L684.00,628.12L684.50,628.17L685.00,628.96L685.50,629.14L686.00,629.13L686.50,629.00L687.00,628.78L687.50,629.16L688.00,628.86L688.50,627.91L689.00,627.09L689.50,627.38L690.00,628.25L690.50,628.82L691.00,628.27L691.50,627.81L692.00,626.91L692.50,627.42L693.00,628.10L693.50,628.91L694.00,628.98L694.50,628.89L695.00,628.60L695.50,627.70L696.00,626.68L696.50,626.90L697.00,627.91L697.50,626.43L698.00,622.23L698.40,622.00L698.50,622.00L699.00,623.12L699.50,628.10L700.00,628.39L700.50,628.77L701.00,628.74L701.50,628.44L702.00,628.38L702.50,628.06L703.00,627.47L703.50,627.42L704.00,627.19L704.50,627.05L705.00,627.26L705.50,628.29L706.00,628.44L706.50,628.45L707.00,628.30L707.50,628.30L708.00,628.35L708.50,628.00L709.00,627.26L709.50,626.25L710.00,625.81L710.50,625.50L711.00,616.35L711.50,614.30L711.60,614.30L712.00,614.73L712.50,622.43L713.00,625.03L713.50,626.59L714.00,626.75L714.50,627.66L715.00,628.06L715.50,627.83L716.00,627.68L716.50,628.08L717.00,626.58L717.50,625.57L718.00,625.60L718.50,627.45L719.00,624.03L719.50,620.49L719.80,620.40L720.00,620.42L720.50,622.71L721.00,625.77L721.50,626.11L722.00,626.46L722.50,626.68L723.00,627.48L723.50,627.75L724.00,627.52L724.50,626.74L725.00,625.83L725.50,625.93L726.00,626.21L726.50,624.28L727.00,624.18L727.50,623.31L728.00,623.81L728.50,625.47L729.00,627.40L729.50,627.20L730.00,626.33L730.50,626.37L731.00,626.96L731.50,626.96L732.00,625.68L732.50,624.29L733.00,622.81L733.50,614.28L734.00,599.42L734.40,598.60L734.50,598.60L735.00,602.56L735.50,620.21L736.00,623.41L736.50,624.86L737.00,626.21L737.50,627.00L738.00,627.19L738.50,626.99L739.00,627.01L739.50,626.42L740.00,625.89L740.50,625.78L741.00,626.54L741.50,627.08L742.00,626.64L742.50,626.55L743.00,626.83L743.50,625.13L744.00,623.65L744.50,623.18L745.00,624.01L745.50,623.10L746.00,620.86L746.50,618.08L747.00,615.08L747.50,608.45L748.00,571.90L748.50,563.71L748.60,563.70L749.00,565.41L749.50,596.18L750.00,613.82L750.50,616.90L751.00,619.77L751.50,622.42L752.00,624.41L752.50,624.09L753.00,624.79L753.50,625.52L754.00,625.85L754.50,625.76L755.00,624.59L755.50,614.38L756.00,613.30L756.50,614.38L757.00,624.59L757.50,625.70L758.00,624.37L758.50,622.59L759.00,620.68L759.50,615.54L760.00,591.37L760.50,588.80L761.00,591.37L761.50,615.54L762.00,620.68L762.50,622.59L763.00,624.37L763.50,625.43L764.00,625.19L764.50,624.89L765.00,624.52L765.50,624.88L766.00,625.38L766.50,625.28L767.00,625.23L767.50,624.90L768.00,624.53L768.50,623.52L769.00,623.37L769.50,624.58L770.00,616.77L770.50,604.00L771.00,570.52L771.50,476.85L772.00,466.90L772.50,476.85L773.00,570.52L773.50,604.00L774.00,616.46L774.50,618.69L775.00,619.46L775.50,622.34L776.00,622.97L776.50,622.76L777.00,620.91L777.50,620.63L778.00,621.80L778.50,622.60L779.00,621.10L779.50,614.55L780.00,613.31L780.20,613.30L780.50,613.34L781.00,615.38L781.50,621.53L782.00,620.36L782.50,617.26L783.00,617.27L783.50,619.72L784.00,621.00L784.50,612.27L785.00,589.04L785.50,564.41L786.00,499.78L786.50,374.15L787.00,184.77L787.50,151.53L787.70,151.30L788.00,152.47L788.50,206.98L789.00,428.10L789.50,515.53L790.00,568.96L790.50,594.14L791.00,615.89L791.50,618.20L792.00,618.96L792.50,616.91L793.00,616.47L793.50,616.56L794.00,617.72L794.50,617.52L795.00,617.52L795.50,615.32L796.00,600.76L796.50,563.56L797.00,541.50L797.50,539.80L798.00,541.50L798.50,563.56L799.00,600.76L799.50,608.85L800.00,587.49L800.50,555.29L801.00,549.64L801.20,549.60L801.50,549.80L802.00,559.07L802.50,596.67L803.00,611.53L803.50,611.68L804.00,607.22L804.50,598.78L805.00,574.28L805.50,512.30L806.00,497.03L806.30,496.70L806.50,496.76L807.00,506.08L807.50,559.16L808.00,594.37L808.50,612.25L809.00,608.22L809.50,583.89L810.00,560.17L810.50,484.95L811.00,322.37L811.50,169.66L812.00,151.31L812.10,151.30L812.50,154.98L813.00,237.32L813.50,459.35L814.00,531.71L814.50,573.77L815.00,599.09L815.50,607.89L816.00,604.98L816.50,604.66L817.00,607.56L817.50,610.06L818.00,610.07L818.50,609.94L819.00,609.90L819.50,609.86L820.00,607.10L820.50,606.15L821.00,606.88L821.50,609.83L822.00,599.24L822.50,569.96L823.00,495.11L823.50,450.73L824.00,447.30L824.50,450.73L825.00,495.11L825.50,569.96L826.00,599.24L826.50,606.84L827.00,607.08L827.50,609.18L828.00,609.25L828.50,609.62L829.00,609.49L829.50,605.85L830.00,578.25L830.50,571.45L830.80,571.30L831.00,571.33L831.50,575.48L832.00,599.12L832.50,609.21L833.00,609.29L833.50,608.99L834.00,609.26L834.50,609.07L835.00,609.21L835.50,609.17L836.00,605.54L836.50,586.64L837.00,583.32L837.20,583.30L837.50,583.42L838.00,588.86L838.50,606.96L839.00,607.40L839.50,605.04L840.00,605.08L840.50,608.77L841.00,609.60L841.50,609.59L842.00,609.24L842.50,609.96L843.00,606.11L843.50,597.93L844.00,597.30L844.50,597.93L845.00,606.11L845.50,612.17L846.00,612.67L846.50,611.92L847.00,611.80L847.50,612.55L848.00,613.30L848.50,612.11L849.00,605.01L849.50,585.71L850.00,582.32L850.20,582.30L850.50,582.42L851.00,587.97L851.50,610.50L852.00,615.76L852.50,612.85L853.00,612.93L853.50,614.75L854.00,617.07L854.50,616.49L855.00,615.87L855.50,615.73L856.00,608.74L856.50,597.64L857.00,596.30L857.10,596.30L857.50,596.57L858.00,602.56L858.50,614.48L859.00,614.43L859.50,599.90L860.00,589.69L860.50,588.90L861.00,589.69L861.50,599.90L862.00,616.72L862.50,617.14L863.00,617.02L863.50,614.70L864.00,614.64L864.50,615.53L865.00,609.07L865.50,601.86L866.00,601.30L866.50,601.86L867.00,609.07L867.50,613.67L868.00,614.39L868.50,614.15L869.00,612.33L869.50,610.20L870.00,609.60L870.50,612.95L871.00,615.80L871.50,605.85L872.00,573.09L872.50,560.94L872.90,560.40L873.00,560.40L873.50,563.11L874.00,585.64L874.50,609.62L875.00,614.69L875.50,614.30L876.00,614.40L876.50,614.18L877.00,599.44L877.50,576.04L878.00,571.93L878.20,571.90L878.50,572.04L879.00,578.78L879.50,606.10L880.00,611.18L880.50,611.36L881.00,610.28L881.50,608.32L882.00,599.59L882.50,601.22L883.00,605.43L883.50,610.21L884.00,603.73L884.50,573.83L885.00,566.46L885.30,566.30L885.50,566.33L886.00,570.83L886.50,596.44L887.00,608.64L887.50,607.97L888.00,609.42L888.50,611.56L889.00,610.80L889.50,610.55L890.00,610.49L890.50,608.57L891.00,607.59L891.50,599.89L892.00,599.30L892.50,599.89L893.00,604.28L893.50,600.85L894.00,603.85L894.50,601.94L895.00,602.36L895.50,604.06L896.00,609.59L896.50,609.85L897.00,609.54L897.50,609.54L898.00,601.79L898.50,580.13L899.00,576.33L899.20,576.30L899.50,576.43L900.00,582.67L900.50,607.97L901.00,608.64L901.50,607.98L902.00,607.25L902.50,606.94L903.00,601.67L903.50,592.04L904.00,591.30L904.50,592.04L905.00,601.67L905.50,607.00L906.00,608.67L906.50,607.16L907.00,604.56L907.50,594.68L908.00,587.04L908.40,586.70L908.50,586.70L909.00,588.40L909.00,631.20L121.00,631.20Z"/>
</g>
<line x1="650.40" y1="244.80" x2="650.40" y2="279.70" stroke="#0000FF" stroke-width="2.50"/><polygon points="645.60,278.70 655.20,278.70 650.40,298.20" fill="#0000FF"/>
<line x1="772.70" y1="248.00" x2="772.70" y2="282.90" stroke="#0000FF" stroke-width="2.50"/><polygon points="767.90,281.90 777.50,281.90 772.70,301.40" fill="#0000FF"/>
<line x1="214.90" y1="557.70" x2="214.90" y2="592.20" stroke="#FF8000" stroke-width="2.50"/><polygon points="210.10,591.20 219.70,591.20 214.90,610.70" fill="#FF8000"/>
<line x1="323.60" y1="557.00" x2="323.60" y2="591.00" stroke="black" stroke-width="2.50"/><polygon points="318.80,590.00 328.40,590.00 323.60,609.50" fill="black"/>
<line x1="359.50" y1="550.20" x2="359.50" y2="584.20" stroke="#0000FF" stroke-width="2.50"/><polygon points="354.70,583.20 364.30,583.20 359.50,602.70" fill="#0000FF"/>
<line x1="371.00" y1="560.30" x2="371.00" y2="594.70" stroke="#FF8000" stroke-width="2.50"/><polygon points="366.20,593.70 375.80,593.70 371.00,613.20" fill="#FF8000"/>
<line x1="385.40" y1="560.30" x2="385.40" y2="594.70" stroke="#FF8000" stroke-width="2.50"/><polygon points="380.60,593.70 390.20,593.70 385.40,613.20" fill="#FF8000"/>
<line x1="564.90" y1="548.00" x2="564.90" y2="582.40" stroke="#0000FF" stroke-width="2.50"/><polygon points="560.10,581.40 569.70,581.40 564.90,600.90" fill="#0000FF"/>
<line x1="610.20" y1="556.40" x2="610.20" y2="591.00" stroke="#0000FF" stroke-width="2.50"/><polygon points="605.40,590.00 615.00,590.00 610.20,609.50" fill="#0000FF"/>
<line x1="636.10" y1="546.20" x2="636.10" y2="580.80" stroke="#0000FF" stroke-width="2.50"/><polygon points="631.30,579.80 640.90,579.80 636.10,599.30" fill="#0000FF"/>
<line x1="650.50" y1="388.70" x2="650.50" y2="423.70" stroke="#0000FF" stroke-width="2.50"/><polygon points="645.70,422.70 655.30,422.70 650.50,442.20" fill="#0000FF"/>
<line x1="674.60" y1="516.20" x2="674.60" y2="551.90" stroke="#0000FF" stroke-width="2.50"/><polygon points="669.80,550.90 679.40,550.90 674.60,570.40" fill="#0000FF"/>
<line x1="711.60" y1="550.10" x2="711.60" y2="585.10" stroke="#FF8000" stroke-width="2.50"/><polygon points="706.80,584.10 716.40,584.10 711.60,603.60" fill="#FF8000"/>
<line x1="734.70" y1="534.80" x2="734.70" y2="570.10" stroke="#FF8000" stroke-width="2.50"/><polygon points="729.90,569.10 739.50,569.10 734.70,588.60" fill="#FF8000"/>
<line x1="748.60" y1="499.80" x2="748.60" y2="535.10" stroke="#0000FF" stroke-width="2.50"/><polygon points="743.80,534.10 753.40,534.10 748.60,553.60" fill="#0000FF"/>
<line x1="760.50" y1="526.00" x2="760.50" y2="561.30" stroke="#FF8000" stroke-width="2.50"/><polygon points="755.70,560.30 765.30,560.30 760.50,579.80" fill="#FF8000"/>
<line x1="772.00" y1="401.70" x2="772.00" y2="436.60" stroke="#0000FF" stroke-width="2.50"/><polygon points="767.20,435.60 776.80,435.60 772.00,455.10" fill="#0000FF"/>
<g font-family="Liberation Sans, sans-serif" fill="#000" stroke="#000" stroke-width="0.3">
<text x="108.30" y="332.20" font-size="32.0" font-weight="normal" font-style="normal" text-anchor="end" >0</text>
<text x="108.30" y="250.55" font-size="32.0" font-weight="normal" font-style="normal" text-anchor="end" >5</text>
<text x="108.30" y="168.90" font-size="32.0" font-weight="normal" font-style="normal" text-anchor="end" >10</text>
<text x="108.30" y="87.25" font-size="32.0" font-weight="normal" font-style="normal" text-anchor="end" >15</text>
<text x="108.30" y="640.80" font-size="32.0" font-weight="normal" font-style="normal" text-anchor="end" >0.0</text>
<text x="108.30" y="556.80" font-size="32.0" font-weight="normal" font-style="normal" text-anchor="end" >0.1</text>
<text x="108.30" y="472.80" font-size="32.0" font-weight="normal" font-style="normal" text-anchor="end" >0.2</text>
<text x="108.30" y="388.80" font-size="32.0" font-weight="normal" font-style="normal" text-anchor="end" >0.3</text>
<text x="208.17" y="683.00" font-size="32.0" font-weight="normal" font-style="normal" text-anchor="middle" >400</text>
<text x="383.50" y="683.00" font-size="32.0" font-weight="normal" font-style="normal" text-anchor="middle" >600</text>
<text x="558.83" y="683.00" font-size="32.0" font-weight="normal" font-style="normal" text-anchor="middle" >800</text>
<text x="734.17" y="683.00" font-size="32.0" font-weight="normal" font-style="normal" text-anchor="middle" >1000</text>
<text x="909.50" y="683.00" font-size="32.0" font-weight="normal" font-style="normal" text-anchor="middle" >1200</text>
<text x="38.00" y="31.80" font-size="32.0" font-weight="normal" font-style="normal" text-anchor="start" >x 10</text>
<text x="98.40" y="18.80" font-size="21.0" font-weight="normal" font-style="normal" text-anchor="start" >6</text>
<text x="142.00" y="79.80" font-size="32.0" font-weight="normal" font-style="normal" text-anchor="start" >(a)</text>
<text x="194.30" y="79.80" font-size="32.0" font-weight="bold" font-style="normal" text-anchor="start" >Bradykinin</text>
<text x="194.30" y="118.90" font-size="32.0" font-weight="normal" font-style="normal" text-anchor="start" >RPPGFSPFR</text>
<text x="194.30" y="157.10" font-size="32.0" font-weight="normal" font-style="normal" text-anchor="start" >prior to irradiation</text>
<text x="142.00" y="389.10" font-size="32.0" font-weight="normal" font-style="normal" text-anchor="start" >(b)</text>
<text x="194.60" y="389.10" font-size="32.0" font-weight="normal" font-style="normal" text-anchor="start" >Au 4.8 MeV/u</text>
<text x="194.40" y="431.60" font-size="32.0" font-weight="normal" font-style="normal" text-anchor="start" >5 x 10</text>
<text x="280.60" y="418.90" font-size="21.3" font-weight="normal" font-style="normal" text-anchor="start" >10</text>
<text x="313.90" y="431.60" font-size="32.0" font-weight="normal" font-style="normal" text-anchor="start" >ions/cm</text>
<text x="424.00" y="418.90" font-size="21.3" font-weight="normal" font-style="normal" text-anchor="start" >2</text>
<text x="795.20" y="72.50" font-size="28.6" font-weight="bold" font-style="normal" text-anchor="start" >[M+H]</text>
<text x="875.60" y="61.00" font-size="19.2" font-weight="bold" font-style="normal" text-anchor="start" >+</text>
<text x="255.40" y="547.10" font-size="28.6" font-weight="bold" font-style="normal" text-anchor="start" >[M+2H]</text>
<text x="351.20" y="534.50" font-size="20.0" font-weight="bold" font-style="normal" text-anchor="start" >2+</text>
<text x="0.00" y="0.00" font-size="32.0" font-weight="normal" font-style="normal" text-anchor="start" transform="translate(26.8,430.2) rotate(-90)">Signal [a. u.]</text>
<text x="490.00" y="734.80" font-size="32.0" font-weight="normal" font-style="italic" text-anchor="start" >m/z</text>
</g>
</svg>
</body></html>
